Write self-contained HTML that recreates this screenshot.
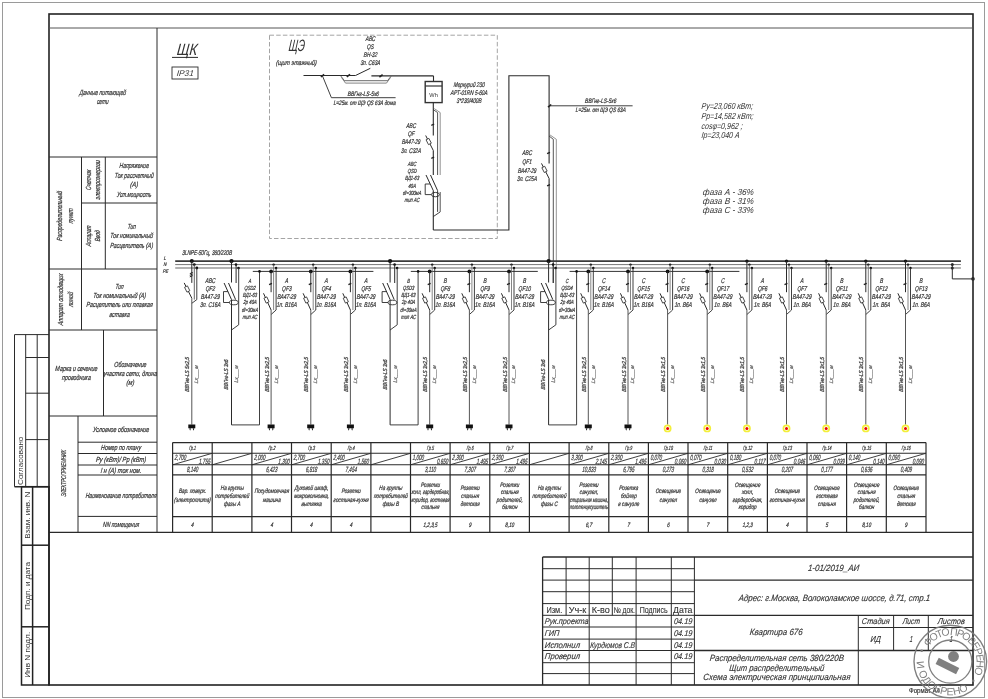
<!DOCTYPE html>
<html><head><meta charset="utf-8"><style>
html,body{margin:0;padding:0;background:#fff;}
svg{display:block;will-change:transform;}
text{font-family:"Liberation Sans",sans-serif;}
</style></head><body>
<svg width="988" height="699" viewBox="0 0 988 699">
<rect width="988" height="699" fill="#fff"/>
<rect x="2.5" y="2.5" width="982.0" height="695.0" fill="none" stroke="#9a9a9a" stroke-width="1.0" />
<rect x="49.0" y="14.0" width="924.0" height="671.0" fill="none" stroke="#222" stroke-width="1.6" />
<line x1="49.0" y1="28.0" x2="973.0" y2="28.0" stroke="#555" stroke-width="1.0" />
<line x1="157.0" y1="28.0" x2="157.0" y2="532.0" stroke="#2a2a2a" stroke-width="1.0" />
<line x1="49.0" y1="157.0" x2="157.0" y2="157.0" stroke="#2a2a2a" stroke-width="1.0" />
<line x1="81.5" y1="157.0" x2="81.5" y2="330.0" stroke="#2a2a2a" stroke-width="1.0" />
<line x1="105.3" y1="157.0" x2="105.3" y2="269.0" stroke="#2a2a2a" stroke-width="1.0" />
<line x1="81.5" y1="203.0" x2="157.0" y2="203.0" stroke="#2a2a2a" stroke-width="1.0" />
<line x1="49.0" y1="269.0" x2="157.0" y2="269.0" stroke="#2a2a2a" stroke-width="1.0" />
<line x1="49.0" y1="330.0" x2="157.0" y2="330.0" stroke="#2a2a2a" stroke-width="1.0" />
<line x1="103.5" y1="330.0" x2="103.5" y2="416.0" stroke="#2a2a2a" stroke-width="1.0" />
<line x1="49.0" y1="416.0" x2="157.0" y2="416.0" stroke="#2a2a2a" stroke-width="1.0" />
<line x1="78.0" y1="416.0" x2="78.0" y2="532.0" stroke="#2a2a2a" stroke-width="1.0" />
<line x1="78.0" y1="442.2" x2="157.0" y2="442.2" stroke="#2a2a2a" stroke-width="1.0" />
<line x1="78.0" y1="453.5" x2="157.0" y2="453.5" stroke="#2a2a2a" stroke-width="1.0" />
<line x1="78.0" y1="465.0" x2="157.0" y2="465.0" stroke="#2a2a2a" stroke-width="1.0" />
<line x1="78.0" y1="475.0" x2="157.0" y2="475.0" stroke="#2a2a2a" stroke-width="1.0" />
<line x1="78.0" y1="516.4" x2="157.0" y2="516.4" stroke="#2a2a2a" stroke-width="1.0" />
<line x1="49.0" y1="532.3" x2="973.0" y2="532.3" stroke="#2a2a2a" stroke-width="1.3" />
<text x="102.5" y="94.6" font-size="7.4" font-style="italic" fill="#333" text-anchor="middle" textLength="46.7" lengthAdjust="spacingAndGlyphs" stroke="#333" stroke-width="0.22" transform="translate(102.5 94.6) skewX(-6) translate(-102.5 -94.6)">Данные питающей</text>
<text x="102.5" y="103.8" font-size="7.4" font-style="italic" fill="#333" text-anchor="middle" textLength="11.7" lengthAdjust="spacingAndGlyphs" stroke="#333" stroke-width="0.22" transform="translate(102.5 103.8) skewX(-6) translate(-102.5 -103.8)">сети</text>
<text x="134.0" y="168.5" font-size="7.4" font-style="italic" fill="#333" text-anchor="middle" textLength="29.4" lengthAdjust="spacingAndGlyphs" stroke="#333" stroke-width="0.22" transform="translate(134.0 168.5) skewX(-6) translate(-134.0 -168.5)">Напряжение</text>
<text x="134.0" y="177.9" font-size="7.4" font-style="italic" fill="#333" text-anchor="middle" textLength="38.9" lengthAdjust="spacingAndGlyphs" stroke="#333" stroke-width="0.22" transform="translate(134.0 177.9) skewX(-6) translate(-134.0 -177.9)">Ток рассчетный</text>
<text x="134.0" y="187.4" font-size="7.4" font-style="italic" fill="#333" text-anchor="middle" textLength="7.9" lengthAdjust="spacingAndGlyphs" stroke="#333" stroke-width="0.22" transform="translate(134.0 187.4) skewX(-6) translate(-134.0 -187.4)">(А)</text>
<text x="134.0" y="196.8" font-size="7.4" font-style="italic" fill="#333" text-anchor="middle" textLength="34.6" lengthAdjust="spacingAndGlyphs" stroke="#333" stroke-width="0.22" transform="translate(134.0 196.8) skewX(-6) translate(-134.0 -196.8)">Уст.мощность</text>
<text x="131.5" y="228.9" font-size="7.4" font-style="italic" fill="#333" text-anchor="middle" textLength="8.2" lengthAdjust="spacingAndGlyphs" stroke="#333" stroke-width="0.22" transform="translate(131.5 228.9) skewX(-6) translate(-131.5 -228.9)">Тип</text>
<text x="131.5" y="238.4" font-size="7.4" font-style="italic" fill="#333" text-anchor="middle" textLength="42.8" lengthAdjust="spacingAndGlyphs" stroke="#333" stroke-width="0.22" transform="translate(131.5 238.4) skewX(-6) translate(-131.5 -238.4)">Ток номинальный</text>
<text x="131.5" y="247.9" font-size="7.4" font-style="italic" fill="#333" text-anchor="middle" textLength="42.9" lengthAdjust="spacingAndGlyphs" stroke="#333" stroke-width="0.22" transform="translate(131.5 247.9) skewX(-6) translate(-131.5 -247.9)">Расцепитель (А)</text>
<text x="119.4" y="288.6" font-size="7.4" font-style="italic" fill="#333" text-anchor="middle" textLength="8.2" lengthAdjust="spacingAndGlyphs" stroke="#333" stroke-width="0.22" transform="translate(119.4 288.6) skewX(-6) translate(-119.4 -288.6)">Тип</text>
<text x="119.4" y="298.0" font-size="7.4" font-style="italic" fill="#333" text-anchor="middle" textLength="53.0" lengthAdjust="spacingAndGlyphs" stroke="#333" stroke-width="0.22" transform="translate(119.4 298.0) skewX(-6) translate(-119.4 -298.0)">Ток номинальный (А)</text>
<text x="119.4" y="307.4" font-size="7.4" font-style="italic" fill="#333" text-anchor="middle" textLength="66.4" lengthAdjust="spacingAndGlyphs" stroke="#333" stroke-width="0.22" transform="translate(119.4 307.4) skewX(-6) translate(-119.4 -307.4)">Расцепитель или плавкая</text>
<text x="119.4" y="316.8" font-size="7.4" font-style="italic" fill="#333" text-anchor="middle" textLength="20.4" lengthAdjust="spacingAndGlyphs" stroke="#333" stroke-width="0.22" transform="translate(119.4 316.8) skewX(-6) translate(-119.4 -316.8)">вставка</text>
<text x="59.7" y="218.7" font-size="7.4" font-style="italic" fill="#333" text-anchor="middle" textLength="49.8" lengthAdjust="spacingAndGlyphs" stroke="#333" stroke-width="0.22" transform="rotate(-90 59.7 216.0) translate(59.7 218.7) skewX(-6) translate(-59.7 -218.7)">Распределительный</text>
<text x="70.7" y="218.7" font-size="7.4" font-style="italic" fill="#333" text-anchor="middle" textLength="15.0" lengthAdjust="spacingAndGlyphs" stroke="#333" stroke-width="0.22" transform="rotate(-90 70.7 216.0) translate(70.7 218.7) skewX(-6) translate(-70.7 -218.7)">пункт</text>
<text x="88.0" y="182.7" font-size="7.4" font-style="italic" fill="#333" text-anchor="middle" textLength="20.4" lengthAdjust="spacingAndGlyphs" stroke="#333" stroke-width="0.22" transform="rotate(-90 88.0 180.0) translate(88.0 182.7) skewX(-6) translate(-88.0 -182.7)">Счетчик</text>
<text x="97.5" y="182.7" font-size="7.4" font-style="italic" fill="#333" text-anchor="middle" textLength="39.3" lengthAdjust="spacingAndGlyphs" stroke="#333" stroke-width="0.22" transform="rotate(-90 97.5 180.0) translate(97.5 182.7) skewX(-6) translate(-97.5 -182.7)">электроэнергии</text>
<text x="88.0" y="238.7" font-size="7.4" font-style="italic" fill="#333" text-anchor="middle" textLength="20.8" lengthAdjust="spacingAndGlyphs" stroke="#333" stroke-width="0.22" transform="rotate(-90 88.0 236.0) translate(88.0 238.7) skewX(-6) translate(-88.0 -238.7)">Аппарат</text>
<text x="97.5" y="238.7" font-size="7.4" font-style="italic" fill="#333" text-anchor="middle" textLength="11.0" lengthAdjust="spacingAndGlyphs" stroke="#333" stroke-width="0.22" transform="rotate(-90 97.5 236.0) translate(97.5 238.7) skewX(-6) translate(-97.5 -238.7)">Ввод</text>
<text x="60.2" y="302.2" font-size="7.4" font-style="italic" fill="#333" text-anchor="middle" textLength="51.9" lengthAdjust="spacingAndGlyphs" stroke="#333" stroke-width="0.22" transform="rotate(-90 60.2 299.5) translate(60.2 302.2) skewX(-6) translate(-60.2 -302.2)">Аппарат отходящих</text>
<text x="70.8" y="302.2" font-size="7.4" font-style="italic" fill="#333" text-anchor="middle" textLength="15.0" lengthAdjust="spacingAndGlyphs" stroke="#333" stroke-width="0.22" transform="rotate(-90 70.8 299.5) translate(70.8 302.2) skewX(-6) translate(-70.8 -302.2)">линий</text>
<text x="76.2" y="371.0" font-size="7.4" font-style="italic" fill="#333" text-anchor="middle" textLength="42.2" lengthAdjust="spacingAndGlyphs" stroke="#333" stroke-width="0.22" transform="translate(76.2 371.0) skewX(-6) translate(-76.2 -371.0)">Марка и сечение</text>
<text x="76.2" y="380.4" font-size="7.4" font-style="italic" fill="#333" text-anchor="middle" textLength="28.8" lengthAdjust="spacingAndGlyphs" stroke="#333" stroke-width="0.22" transform="translate(76.2 380.4) skewX(-6) translate(-76.2 -380.4)">проводника</text>
<text x="130.2" y="366.9" font-size="7.4" font-style="italic" fill="#333" text-anchor="middle" textLength="32.2" lengthAdjust="spacingAndGlyphs" stroke="#333" stroke-width="0.22" transform="translate(130.2 366.9) skewX(-6) translate(-130.2 -366.9)">Обозначение</text>
<text x="130.2" y="376.2" font-size="7.4" font-style="italic" fill="#333" text-anchor="middle" textLength="53.6" lengthAdjust="spacingAndGlyphs" stroke="#333" stroke-width="0.22" transform="translate(130.2 376.2) skewX(-6) translate(-130.2 -376.2)">участка сети, длина</text>
<text x="130.2" y="385.5" font-size="7.4" font-style="italic" fill="#333" text-anchor="middle" textLength="7.8" lengthAdjust="spacingAndGlyphs" stroke="#333" stroke-width="0.22" transform="translate(130.2 385.5) skewX(-6) translate(-130.2 -385.5)">(м)</text>
<text x="63.8" y="476.0" font-size="7.0" font-style="italic" fill="#333" text-anchor="middle" textLength="46.5" lengthAdjust="spacingAndGlyphs" stroke="#333" stroke-width="0.22" transform="rotate(-90 63.8 473.5) translate(63.8 476.0) skewX(-6) translate(-63.8 -476.0)">ЭЛЕКТРОПРИЕМНИК</text>
<text x="120.9" y="432.2" font-size="7.4" font-style="italic" fill="#333" text-anchor="middle" textLength="56.2" lengthAdjust="spacingAndGlyphs" stroke="#333" stroke-width="0.22" transform="translate(120.9 432.2) skewX(-6) translate(-120.9 -432.2)">Условное обозначение</text>
<text x="120.9" y="450.5" font-size="7.4" font-style="italic" fill="#333" text-anchor="middle" textLength="40.3" lengthAdjust="spacingAndGlyphs" stroke="#333" stroke-width="0.22" transform="translate(120.9 450.5) skewX(-6) translate(-120.9 -450.5)">Номер по плану</text>
<text x="120.9" y="462.0" font-size="7.4" font-style="italic" fill="#333" text-anchor="middle" textLength="50.2" lengthAdjust="spacingAndGlyphs" stroke="#333" stroke-width="0.22" transform="translate(120.9 462.0) skewX(-6) translate(-120.9 -462.0)">Ру (кВт)/ Рр (кВт)</text>
<text x="120.9" y="472.9" font-size="7.4" font-style="italic" fill="#333" text-anchor="middle" textLength="40.9" lengthAdjust="spacingAndGlyphs" stroke="#333" stroke-width="0.22" transform="translate(120.9 472.9) skewX(-6) translate(-120.9 -472.9)">I н (А) ток ном.</text>
<text x="120.9" y="498.2" font-size="7.4" font-style="italic" fill="#333" text-anchor="middle" textLength="71.0" lengthAdjust="spacingAndGlyphs" stroke="#333" stroke-width="0.22" transform="translate(120.9 498.2) skewX(-6) translate(-120.9 -498.2)">Наименование потребителя</text>
<text x="120.9" y="527.3" font-size="7.4" font-style="italic" fill="#333" text-anchor="middle" textLength="36.1" lengthAdjust="spacingAndGlyphs" stroke="#333" stroke-width="0.22" transform="translate(120.9 527.3) skewX(-6) translate(-120.9 -527.3)">NN помещения</text>
<line x1="14.5" y1="334.6" x2="49.0" y2="334.6" stroke="#2a2a2a" stroke-width="1.0" />
<line x1="14.5" y1="334.6" x2="14.5" y2="486.7" stroke="#2a2a2a" stroke-width="1.0" />
<line x1="25.7" y1="334.6" x2="25.7" y2="486.7" stroke="#2a2a2a" stroke-width="1.0" />
<line x1="37.2" y1="334.6" x2="37.2" y2="486.7" stroke="#2a2a2a" stroke-width="1.0" />
<line x1="25.7" y1="357.5" x2="49.0" y2="357.5" stroke="#2a2a2a" stroke-width="1.0" />
<line x1="25.7" y1="393.2" x2="49.0" y2="393.2" stroke="#2a2a2a" stroke-width="1.0" />
<line x1="25.7" y1="439.6" x2="49.0" y2="439.6" stroke="#2a2a2a" stroke-width="1.0" />
<line x1="14.5" y1="486.7" x2="49.0" y2="486.7" stroke="#2a2a2a" stroke-width="1.4" />
<rect x="21.5" y="486.7" width="27.5" height="198.3" fill="none" stroke="#222" stroke-width="1.5" />
<line x1="32.6" y1="486.7" x2="32.6" y2="685.0" stroke="#222" stroke-width="1.5" />
<line x1="21.5" y1="545.2" x2="49.0" y2="545.2" stroke="#222" stroke-width="1.5" />
<line x1="21.5" y1="626.8" x2="49.0" y2="626.8" stroke="#222" stroke-width="1.5" />
<text x="20.6" y="463.5" font-size="7.4" font-style="normal" fill="#333" text-anchor="middle" textLength="48.2" lengthAdjust="spacingAndGlyphs" transform="rotate(-90 20.6 460.8) ">Согласовано</text>
<text x="27.0" y="518.0" font-size="7.4" font-style="normal" fill="#333" text-anchor="middle" textLength="47.0" lengthAdjust="spacingAndGlyphs" transform="rotate(-90 27.0 515.3) ">Взам. инв. N</text>
<text x="27.0" y="588.7" font-size="7.4" font-style="normal" fill="#333" text-anchor="middle" textLength="48.0" lengthAdjust="spacingAndGlyphs" transform="rotate(-90 27.0 586.0) ">Подп. и дата</text>
<text x="27.0" y="657.5" font-size="7.4" font-style="normal" fill="#333" text-anchor="middle" textLength="46.0" lengthAdjust="spacingAndGlyphs" transform="rotate(-90 27.0 654.8) ">Инв N подл.</text>
<line x1="542.6" y1="557.0" x2="973.0" y2="557.0" stroke="#2a2a2a" stroke-width="1.3" />
<line x1="542.6" y1="557.0" x2="542.6" y2="685.0" stroke="#2a2a2a" stroke-width="1.3" />
<line x1="542.6" y1="568.7" x2="694.4" y2="568.7" stroke="#2a2a2a" stroke-width="1.0" />
<line x1="542.6" y1="580.1" x2="694.4" y2="580.1" stroke="#2a2a2a" stroke-width="1.0" />
<line x1="542.6" y1="591.7" x2="694.4" y2="591.7" stroke="#2a2a2a" stroke-width="1.0" />
<line x1="542.6" y1="603.6" x2="694.4" y2="603.6" stroke="#2a2a2a" stroke-width="1.0" />
<line x1="542.6" y1="615.3" x2="694.4" y2="615.3" stroke="#2a2a2a" stroke-width="1.0" />
<line x1="542.6" y1="627.0" x2="694.4" y2="627.0" stroke="#2a2a2a" stroke-width="1.0" />
<line x1="542.6" y1="639.1" x2="694.4" y2="639.1" stroke="#2a2a2a" stroke-width="1.0" />
<line x1="542.6" y1="650.5" x2="694.4" y2="650.5" stroke="#2a2a2a" stroke-width="1.0" />
<line x1="542.6" y1="662.7" x2="694.4" y2="662.7" stroke="#2a2a2a" stroke-width="1.0" />
<line x1="542.6" y1="673.6" x2="694.4" y2="673.6" stroke="#2a2a2a" stroke-width="1.0" />
<line x1="566.1" y1="557.0" x2="566.1" y2="615.3" stroke="#2a2a2a" stroke-width="1.0" />
<line x1="612.3" y1="557.0" x2="612.3" y2="615.3" stroke="#2a2a2a" stroke-width="1.0" />
<line x1="589.2" y1="557.0" x2="589.2" y2="685.0" stroke="#2a2a2a" stroke-width="1.0" />
<line x1="636.1" y1="557.0" x2="636.1" y2="685.0" stroke="#2a2a2a" stroke-width="1.0" />
<line x1="671.3" y1="557.0" x2="671.3" y2="685.0" stroke="#2a2a2a" stroke-width="1.0" />
<line x1="694.4" y1="557.0" x2="694.4" y2="685.0" stroke="#2a2a2a" stroke-width="1.0" />
<line x1="694.4" y1="580.1" x2="973.0" y2="580.1" stroke="#2a2a2a" stroke-width="1.3" />
<line x1="694.4" y1="615.3" x2="973.0" y2="615.3" stroke="#2a2a2a" stroke-width="1.3" />
<line x1="694.4" y1="650.5" x2="973.0" y2="650.5" stroke="#2a2a2a" stroke-width="1.3" />
<line x1="858.3" y1="615.3" x2="858.3" y2="685.0" stroke="#2a2a2a" stroke-width="1.0" />
<line x1="893.6" y1="615.3" x2="893.6" y2="650.5" stroke="#2a2a2a" stroke-width="1.0" />
<line x1="928.3" y1="615.3" x2="928.3" y2="650.5" stroke="#2a2a2a" stroke-width="1.0" />
<line x1="858.3" y1="627.5" x2="973.0" y2="627.5" stroke="#2a2a2a" stroke-width="1.0" />
<text x="554.3" y="612.6" font-size="8.4" font-style="normal" fill="#333" text-anchor="middle" textLength="15.8" lengthAdjust="spacingAndGlyphs" stroke="#333" stroke-width="0.12">Изм.</text>
<text x="577.6" y="612.6" font-size="8.4" font-style="normal" fill="#333" text-anchor="middle" textLength="17.5" lengthAdjust="spacingAndGlyphs" stroke="#333" stroke-width="0.12">Уч-к</text>
<text x="600.7" y="612.6" font-size="8.4" font-style="normal" fill="#333" text-anchor="middle" textLength="18.0" lengthAdjust="spacingAndGlyphs" stroke="#333" stroke-width="0.12">К-во</text>
<text x="624.2" y="612.6" font-size="8.4" font-style="normal" fill="#333" text-anchor="middle" textLength="21.6" lengthAdjust="spacingAndGlyphs" stroke="#333" stroke-width="0.12">№ док.</text>
<text x="653.7" y="612.6" font-size="8.4" font-style="normal" fill="#333" text-anchor="middle" textLength="28.0" lengthAdjust="spacingAndGlyphs" stroke="#333" stroke-width="0.12">Подпись</text>
<text x="682.8" y="612.6" font-size="8.4" font-style="normal" fill="#333" text-anchor="middle" textLength="19.4" lengthAdjust="spacingAndGlyphs" stroke="#333" stroke-width="0.12">Дата</text>
<text x="544.6" y="624.2" font-size="8.4" font-style="italic" fill="#333" text-anchor="start" textLength="43.7" lengthAdjust="spacingAndGlyphs" stroke="#333" stroke-width="0.14" transform="translate(544.6 624.2) skewX(-6) translate(-544.6 -624.2)">Рук.проекта</text>
<text x="682.9" y="624.2" font-size="8.4" font-style="italic" fill="#333" text-anchor="middle" textLength="18.5" lengthAdjust="spacingAndGlyphs" stroke="#333" stroke-width="0.14" transform="translate(682.9 624.2) skewX(-6) translate(-682.9 -624.2)">04.19</text>
<text x="544.6" y="636.0" font-size="8.4" font-style="italic" fill="#333" text-anchor="start" textLength="14.6" lengthAdjust="spacingAndGlyphs" stroke="#333" stroke-width="0.14" transform="translate(544.6 636.0) skewX(-6) translate(-544.6 -636.0)">ГИП</text>
<text x="682.9" y="636.0" font-size="8.4" font-style="italic" fill="#333" text-anchor="middle" textLength="18.5" lengthAdjust="spacingAndGlyphs" stroke="#333" stroke-width="0.14" transform="translate(682.9 636.0) skewX(-6) translate(-682.9 -636.0)">04.19</text>
<text x="544.6" y="647.8" font-size="8.4" font-style="italic" fill="#333" text-anchor="start" textLength="35.2" lengthAdjust="spacingAndGlyphs" stroke="#333" stroke-width="0.14" transform="translate(544.6 647.8) skewX(-6) translate(-544.6 -647.8)">Исполнил</text>
<text x="682.9" y="647.8" font-size="8.4" font-style="italic" fill="#333" text-anchor="middle" textLength="18.5" lengthAdjust="spacingAndGlyphs" stroke="#333" stroke-width="0.14" transform="translate(682.9 647.8) skewX(-6) translate(-682.9 -647.8)">04.19</text>
<text x="544.6" y="659.3" font-size="8.4" font-style="italic" fill="#333" text-anchor="start" textLength="35.2" lengthAdjust="spacingAndGlyphs" stroke="#333" stroke-width="0.14" transform="translate(544.6 659.3) skewX(-6) translate(-544.6 -659.3)">Проверил</text>
<text x="682.9" y="659.3" font-size="8.4" font-style="italic" fill="#333" text-anchor="middle" textLength="18.5" lengthAdjust="spacingAndGlyphs" stroke="#333" stroke-width="0.14" transform="translate(682.9 659.3) skewX(-6) translate(-682.9 -659.3)">04.19</text>
<text x="612.4" y="647.6" font-size="8.4" font-style="italic" fill="#333" text-anchor="middle" textLength="45.0" lengthAdjust="spacingAndGlyphs" stroke="#333" stroke-width="0.14" transform="translate(612.4 647.6) skewX(-6) translate(-612.4 -647.6)">Курдюмов С.В</text>
<text x="833.3" y="571.5" font-size="9.0" font-style="italic" fill="#333" text-anchor="middle" textLength="51.3" lengthAdjust="spacingAndGlyphs" stroke="#333" stroke-width="0.14" transform="translate(833.3 571.5) skewX(-6) translate(-833.3 -571.5)">1-01/2019_АИ</text>
<text x="834.2" y="600.6" font-size="9.0" font-style="italic" fill="#333" text-anchor="middle" textLength="191.6" lengthAdjust="spacingAndGlyphs" stroke="#333" stroke-width="0.14" transform="translate(834.2 600.6) skewX(-6) translate(-834.2 -600.6)">Адрес: г.Москва, Волоколамское шоссе, д.71, стр.1</text>
<text x="776.0" y="635.5" font-size="9.0" font-style="italic" fill="#333" text-anchor="middle" textLength="52.8" lengthAdjust="spacingAndGlyphs" stroke="#333" stroke-width="0.14" transform="translate(776.0 635.5) skewX(-6) translate(-776.0 -635.5)">Квартира 676</text>
<text x="875.5" y="624.5" font-size="8.6" font-style="italic" fill="#333" text-anchor="middle" textLength="27.8" lengthAdjust="spacingAndGlyphs" stroke="#333" stroke-width="0.14" transform="translate(875.5 624.5) skewX(-6) translate(-875.5 -624.5)">Стадия</text>
<text x="911.1" y="624.5" font-size="8.6" font-style="italic" fill="#333" text-anchor="middle" textLength="17.2" lengthAdjust="spacingAndGlyphs" stroke="#333" stroke-width="0.14" transform="translate(911.1 624.5) skewX(-6) translate(-911.1 -624.5)">Лист</text>
<text x="951.0" y="624.5" font-size="8.6" font-style="italic" fill="#333" text-anchor="middle" textLength="27.1" lengthAdjust="spacingAndGlyphs" stroke="#333" stroke-width="0.14" transform="translate(951.0 624.5) skewX(-6) translate(-951.0 -624.5)">Листов</text>
<text x="875.5" y="642.1" font-size="8.6" font-style="italic" fill="#333" text-anchor="middle" textLength="10.3" lengthAdjust="spacingAndGlyphs" stroke="#333" stroke-width="0.14" transform="translate(875.5 642.1) skewX(-6) translate(-875.5 -642.1)">ИД</text>
<text x="911.1" y="642.1" font-size="8.6" font-style="italic" fill="#333" text-anchor="middle" textLength="3.0" lengthAdjust="spacingAndGlyphs" stroke="#333" stroke-width="0.14" transform="translate(911.1 642.1) skewX(-6) translate(-911.1 -642.1)">1</text>
<text x="951.0" y="642.1" font-size="8.6" font-style="italic" fill="#333" text-anchor="middle" textLength="3.0" lengthAdjust="spacingAndGlyphs" stroke="#333" stroke-width="0.14" transform="translate(951.0 642.1) skewX(-6) translate(-951.0 -642.1)">1</text>
<text x="776.6" y="660.8" font-size="9.0" font-style="italic" fill="#333" text-anchor="middle" textLength="134.2" lengthAdjust="spacingAndGlyphs" stroke="#333" stroke-width="0.14" transform="translate(776.6 660.8) skewX(-6) translate(-776.6 -660.8)">Распределительная сеть 380/220В</text>
<text x="776.6" y="670.6" font-size="9.0" font-style="italic" fill="#333" text-anchor="middle" textLength="95.0" lengthAdjust="spacingAndGlyphs" stroke="#333" stroke-width="0.14" transform="translate(776.6 670.6) skewX(-6) translate(-776.6 -670.6)">Щит распределительный</text>
<text x="776.6" y="680.4" font-size="9.0" font-style="italic" fill="#333" text-anchor="middle" textLength="147.2" lengthAdjust="spacingAndGlyphs" stroke="#333" stroke-width="0.14" transform="translate(776.6 680.4) skewX(-6) translate(-776.6 -680.4)">Схема электрическая принципиальная</text>
<text x="909.0" y="693.3" font-size="7.4" font-style="normal" fill="#333" text-anchor="start" textLength="31.0" lengthAdjust="spacingAndGlyphs" stroke="#333" stroke-width="0.2">Формат А4</text>
<text x="186.8" y="55.2" font-size="16.5" font-style="italic" fill="#333" text-anchor="middle" textLength="20.4" lengthAdjust="spacingAndGlyphs" transform="translate(186.8 55.2) skewX(-6) translate(-186.8 -55.2)">ЩК</text>
<line x1="172.0" y1="57.4" x2="198.0" y2="57.4" stroke="#2a2a2a" stroke-width="1.0" />
<rect x="172.0" y="67.0" width="26.0" height="12.0" fill="none" stroke="#2a2a2a" stroke-width="0.9" />
<text x="185.0" y="76.0" font-size="8.4" font-style="italic" fill="#333" text-anchor="middle" textLength="17.0" lengthAdjust="spacingAndGlyphs" transform="translate(185.0 76.0) skewX(-6) translate(-185.0 -76.0)">IP31</text>
<rect x="269.5" y="35.2" width="227.8" height="203.3" fill="none" stroke="#9a9a9a" stroke-width="0.9" stroke-dasharray="4.5 2.2"/>
<text x="296.4" y="51.2" font-size="16.5" font-style="italic" fill="#333" text-anchor="middle" textLength="16.2" lengthAdjust="spacingAndGlyphs" transform="translate(296.4 51.2) skewX(-6) translate(-296.4 -51.2)">ЩЭ</text>
<text x="296.3" y="65.5" font-size="6.8" font-style="italic" fill="#333" text-anchor="middle" textLength="40.7" lengthAdjust="spacingAndGlyphs" stroke="#333" stroke-width="0.22" transform="translate(296.3 65.5) skewX(-6) translate(-296.3 -65.5)">(щит этажный)</text>
<line x1="303.5" y1="75.5" x2="355.5" y2="75.5" stroke="#2a2a2a" stroke-width="1.1" />
<line x1="355.5" y1="75.5" x2="370.3" y2="68.3" stroke="#2a2a2a" stroke-width="1.0" />
<line x1="371.4" y1="75.9" x2="433.5" y2="75.9" stroke="#2a2a2a" stroke-width="1.1" />
<line x1="433.5" y1="75.9" x2="433.5" y2="81.5" stroke="#2a2a2a" stroke-width="1.1" />
<line x1="320.9" y1="77.0" x2="324.1" y2="74.4" stroke="#222" stroke-width="1.6" />
<line x1="346.8" y1="76.9" x2="350.0" y2="74.3" stroke="#222" stroke-width="1.6" />
<line x1="379.4" y1="77.2" x2="382.6" y2="74.6" stroke="#222" stroke-width="1.6" />
<polyline points="340.5,75.7 344.5,80.7 387.5,80.7 391.1,76.2" fill="none" stroke="#444" stroke-width="0.8" />
<polyline points="341.5,77.5 345.5,83.1 386.5,83.1 390.5,77.5" fill="none" stroke="#666" stroke-width="0.8" />
<line x1="322.5" y1="76.0" x2="331.4" y2="97.7" stroke="#2a2a2a" stroke-width="0.9" />
<line x1="331.4" y1="97.7" x2="395.6" y2="97.7" stroke="#2a2a2a" stroke-width="0.9" />
<text x="363.2" y="95.9" font-size="6.4" font-style="italic" fill="#333" text-anchor="middle" textLength="31.3" lengthAdjust="spacingAndGlyphs" stroke="#333" stroke-width="0.22" transform="translate(363.2 95.9) skewX(-6) translate(-363.2 -95.9)">ВВГнг-LS-5х6</text>
<text x="364.5" y="104.9" font-size="6.4" font-style="italic" fill="#333" text-anchor="middle" textLength="62.2" lengthAdjust="spacingAndGlyphs" stroke="#333" stroke-width="0.22" transform="translate(364.5 104.9) skewX(-6) translate(-364.5 -104.9)">L=25м. от ЩЭ QS 63А дома</text>
<text x="370.3" y="40.7" font-size="6.8" font-style="italic" fill="#333" text-anchor="middle" textLength="9.7" lengthAdjust="spacingAndGlyphs" stroke="#333" stroke-width="0.22" transform="translate(370.3 40.7) skewX(-6) translate(-370.3 -40.7)">АВС</text>
<text x="370.3" y="48.8" font-size="6.8" font-style="italic" fill="#333" text-anchor="middle" textLength="6.9" lengthAdjust="spacingAndGlyphs" stroke="#333" stroke-width="0.22" transform="translate(370.3 48.8) skewX(-6) translate(-370.3 -48.8)">QS</text>
<text x="370.3" y="56.9" font-size="6.8" font-style="italic" fill="#333" text-anchor="middle" textLength="13.5" lengthAdjust="spacingAndGlyphs" stroke="#333" stroke-width="0.22" transform="translate(370.3 56.9) skewX(-6) translate(-370.3 -56.9)">ВН-32</text>
<text x="370.3" y="65.0" font-size="6.8" font-style="italic" fill="#333" text-anchor="middle" textLength="19.8" lengthAdjust="spacingAndGlyphs" stroke="#333" stroke-width="0.22" transform="translate(370.3 65.0) skewX(-6) translate(-370.3 -65.0)">3п. С63А</text>
<rect x="425.2" y="81.5" width="16.9" height="21.1" fill="none" stroke="#333" stroke-width="1.4" />
<line x1="425.2" y1="86.0" x2="442.1" y2="86.0" stroke="#333" stroke-width="1.2" />
<text x="433.6" y="97.2" font-size="6.0" font-style="normal" fill="#333" text-anchor="middle" textLength="8.5" lengthAdjust="spacingAndGlyphs">Wh</text>
<text x="469.0" y="86.9" font-size="6.8" font-style="italic" fill="#333" text-anchor="middle" textLength="31.1" lengthAdjust="spacingAndGlyphs" stroke="#333" stroke-width="0.22" transform="translate(469.0 86.9) skewX(-6) translate(-469.0 -86.9)">Меркурий 230</text>
<text x="469.0" y="95.0" font-size="6.8" font-style="italic" fill="#333" text-anchor="middle" textLength="36.8" lengthAdjust="spacingAndGlyphs" stroke="#333" stroke-width="0.22" transform="translate(469.0 95.0) skewX(-6) translate(-469.0 -95.0)">АРТ-01RN 5-60А</text>
<text x="469.0" y="103.1" font-size="6.8" font-style="italic" fill="#333" text-anchor="middle" textLength="24.9" lengthAdjust="spacingAndGlyphs" stroke="#333" stroke-width="0.22" transform="translate(469.0 103.1) skewX(-6) translate(-469.0 -103.1)">3*230/400В</text>
<line x1="433.3" y1="102.6" x2="433.3" y2="135.5" stroke="#2a2a2a" stroke-width="1.1" />
<line x1="431.3" y1="125.3" x2="434.2" y2="124.0" stroke="#222" stroke-width="1.3" />
<line x1="425.7" y1="135.5" x2="433.3" y2="150.5" stroke="#2a2a2a" stroke-width="1.0" />
<rect x="426.0" y="139.9" width="5.4" height="3.2" fill="#fff" stroke="#2a2a2a" stroke-width="0.75" transform="rotate(63.1 428.7 141.5)"/>
<line x1="433.3" y1="150.5" x2="433.3" y2="175.0" stroke="#2a2a2a" stroke-width="1.1" />
<line x1="431.3" y1="158.3" x2="434.2" y2="157.0" stroke="#222" stroke-width="1.3" />
<line x1="433.3" y1="109.6" x2="437.6" y2="112.6" stroke="#2a2a2a" stroke-width="0.8" />
<line x1="437.6" y1="112.6" x2="437.6" y2="175.0" stroke="#2a2a2a" stroke-width="0.8" />
<line x1="434.3" y1="108.6" x2="440.2" y2="112.6" stroke="#777" stroke-width="0.8" />
<line x1="440.2" y1="112.6" x2="440.2" y2="175.0" stroke="#777" stroke-width="0.8" />
<text x="411.0" y="128.1" font-size="6.8" font-style="italic" fill="#333" text-anchor="middle" textLength="9.7" lengthAdjust="spacingAndGlyphs" stroke="#333" stroke-width="0.22" transform="translate(411.0 128.1) skewX(-6) translate(-411.0 -128.1)">АВС</text>
<text x="411.0" y="136.3" font-size="6.8" font-style="italic" fill="#333" text-anchor="middle" textLength="6.6" lengthAdjust="spacingAndGlyphs" stroke="#333" stroke-width="0.22" transform="translate(411.0 136.3) skewX(-6) translate(-411.0 -136.3)">QF</text>
<text x="411.0" y="144.5" font-size="6.8" font-style="italic" fill="#333" text-anchor="middle" textLength="18.4" lengthAdjust="spacingAndGlyphs" stroke="#333" stroke-width="0.22" transform="translate(411.0 144.5) skewX(-6) translate(-411.0 -144.5)">ВА47-29</text>
<text x="411.0" y="152.7" font-size="6.8" font-style="italic" fill="#333" text-anchor="middle" textLength="19.8" lengthAdjust="spacingAndGlyphs" stroke="#333" stroke-width="0.22" transform="translate(411.0 152.7) skewX(-6) translate(-411.0 -152.7)">3п. С32А</text>
<line x1="426.0" y1="175.0" x2="433.3" y2="190.6" stroke="#2a2a2a" stroke-width="1.0" />
<line x1="430.5" y1="175.0" x2="437.6" y2="190.6" stroke="#2a2a2a" stroke-width="1.0" />
<polyline points="430.0,184.0 425.2,184.0 425.2,194.6 431.3,194.6" fill="none" stroke="#2a2a2a" stroke-width="0.9" />
<ellipse cx="435.4" cy="194.6" rx="4" ry="2.2" fill="none" stroke="#2a2a2a" stroke-width="0.9"/>
<line x1="433.3" y1="190.6" x2="433.3" y2="230.0" stroke="#2a2a2a" stroke-width="1.1" />
<line x1="437.6" y1="190.6" x2="437.6" y2="211.9" stroke="#2a2a2a" stroke-width="0.9" />
<line x1="440.2" y1="192.0" x2="440.2" y2="211.9" stroke="#2a2a2a" stroke-width="0.8" />
<line x1="440.2" y1="211.9" x2="433.3" y2="216.6" stroke="#2a2a2a" stroke-width="0.9" />
<text x="412.0" y="165.9" font-size="6.0" font-style="italic" fill="#333" text-anchor="middle" textLength="8.5" lengthAdjust="spacingAndGlyphs" stroke="#333" stroke-width="0.22" transform="translate(412.0 165.9) skewX(-6) translate(-412.0 -165.9)">АВС</text>
<text x="412.0" y="173.2" font-size="6.0" font-style="italic" fill="#333" text-anchor="middle" textLength="9.1" lengthAdjust="spacingAndGlyphs" stroke="#333" stroke-width="0.22" transform="translate(412.0 173.2) skewX(-6) translate(-412.0 -173.2)">QSD</text>
<text x="412.0" y="180.5" font-size="6.0" font-style="italic" fill="#333" text-anchor="middle" textLength="14.1" lengthAdjust="spacingAndGlyphs" stroke="#333" stroke-width="0.22" transform="translate(412.0 180.5) skewX(-6) translate(-412.0 -180.5)">ВД1-63</text>
<text x="412.0" y="187.8" font-size="6.0" font-style="italic" fill="#333" text-anchor="middle" textLength="7.5" lengthAdjust="spacingAndGlyphs" stroke="#333" stroke-width="0.22" transform="translate(412.0 187.8) skewX(-6) translate(-412.0 -187.8)">40А</text>
<text x="412.0" y="195.1" font-size="6.0" font-style="italic" fill="#333" text-anchor="middle" textLength="18.6" lengthAdjust="spacingAndGlyphs" stroke="#333" stroke-width="0.22" transform="translate(412.0 195.1) skewX(-6) translate(-412.0 -195.1)">dI=300мА</text>
<text x="412.0" y="202.4" font-size="6.0" font-style="italic" fill="#333" text-anchor="middle" textLength="14.9" lengthAdjust="spacingAndGlyphs" stroke="#333" stroke-width="0.22" transform="translate(412.0 202.4) skewX(-6) translate(-412.0 -202.4)">тип АС</text>
<polyline points="433.3,230.0 508.9,230.0 508.9,75.8 549.1,75.8 549.1,163.4" fill="none" stroke="#2a2a2a" stroke-width="1.1" />
<line x1="547.1" y1="153.6" x2="550.0" y2="152.3" stroke="#222" stroke-width="1.3" />
<line x1="541.5" y1="163.4" x2="549.1" y2="178.5" stroke="#2a2a2a" stroke-width="1.0" />
<rect x="541.8" y="167.8" width="5.4" height="3.2" fill="#fff" stroke="#2a2a2a" stroke-width="0.75" transform="rotate(63.3 544.5 169.4)"/>
<line x1="549.1" y1="178.5" x2="549.1" y2="261.0" stroke="#2a2a2a" stroke-width="1.1" />
<line x1="547.1" y1="185.9" x2="550.0" y2="184.6" stroke="#222" stroke-width="1.3" />
<line x1="549.1" y1="136.0" x2="553.3" y2="139.3" stroke="#2a2a2a" stroke-width="0.8" />
<line x1="553.3" y1="139.3" x2="553.3" y2="283.0" stroke="#2a2a2a" stroke-width="0.8" />
<line x1="550.1" y1="135.0" x2="556.3" y2="139.3" stroke="#777" stroke-width="0.8" />
<line x1="556.3" y1="139.3" x2="556.3" y2="268.0" stroke="#777" stroke-width="0.8" />
<line x1="549.1" y1="105.8" x2="632.6" y2="105.8" stroke="#2a2a2a" stroke-width="0.9" />
<line x1="548.0" y1="107.1" x2="551.2" y2="104.5" stroke="#222" stroke-width="1.6" />
<text x="600.6" y="103.3" font-size="6.4" font-style="italic" fill="#333" text-anchor="middle" textLength="31.5" lengthAdjust="spacingAndGlyphs" stroke="#333" stroke-width="0.22" transform="translate(600.6 103.3) skewX(-6) translate(-600.6 -103.3)">ВВГнг-LS-5х6</text>
<text x="600.6" y="112.1" font-size="6.4" font-style="italic" fill="#333" text-anchor="middle" textLength="50.0" lengthAdjust="spacingAndGlyphs" stroke="#333" stroke-width="0.22" transform="translate(600.6 112.1) skewX(-6) translate(-600.6 -112.1)">L=25м. от ЩЭ QS 63А</text>
<text x="527.0" y="155.4" font-size="6.8" font-style="italic" fill="#333" text-anchor="middle" textLength="9.7" lengthAdjust="spacingAndGlyphs" stroke="#333" stroke-width="0.22" transform="translate(527.0 155.4) skewX(-6) translate(-527.0 -155.4)">АВС</text>
<text x="527.0" y="164.1" font-size="6.8" font-style="italic" fill="#333" text-anchor="middle" textLength="9.3" lengthAdjust="spacingAndGlyphs" stroke="#333" stroke-width="0.22" transform="translate(527.0 164.1) skewX(-6) translate(-527.0 -164.1)">QF1</text>
<text x="527.0" y="172.8" font-size="6.8" font-style="italic" fill="#333" text-anchor="middle" textLength="18.4" lengthAdjust="spacingAndGlyphs" stroke="#333" stroke-width="0.22" transform="translate(527.0 172.8) skewX(-6) translate(-527.0 -172.8)">ВА47-29</text>
<text x="527.0" y="181.5" font-size="6.8" font-style="italic" fill="#333" text-anchor="middle" textLength="19.8" lengthAdjust="spacingAndGlyphs" stroke="#333" stroke-width="0.22" transform="translate(527.0 181.5) skewX(-6) translate(-527.0 -181.5)">3п. С25А</text>
<text x="701.2" y="109.4" font-size="8.8" font-style="italic" fill="#333" text-anchor="start" textLength="51.7" lengthAdjust="spacingAndGlyphs" transform="translate(701.2 109.4) skewX(-6) translate(-701.2 -109.4)">Ру=23,060 кВт;</text>
<text x="701.2" y="119.0" font-size="8.8" font-style="italic" fill="#333" text-anchor="start" textLength="52.0" lengthAdjust="spacingAndGlyphs" transform="translate(701.2 119.0) skewX(-6) translate(-701.2 -119.0)">Рр=14,582 кВт;</text>
<text x="701.2" y="128.6" font-size="8.8" font-style="italic" fill="#333" text-anchor="start" textLength="41.2" lengthAdjust="spacingAndGlyphs" transform="translate(701.2 128.6) skewX(-6) translate(-701.2 -128.6)">cosφ=0,962 ;</text>
<text x="701.2" y="138.2" font-size="8.8" font-style="italic" fill="#333" text-anchor="start" textLength="38.2" lengthAdjust="spacingAndGlyphs" transform="translate(701.2 138.2) skewX(-6) translate(-701.2 -138.2)">Iр=23,040 А</text>
<text x="702.6" y="195.0" font-size="8.8" font-style="italic" fill="#333" text-anchor="start" textLength="51.0" lengthAdjust="spacingAndGlyphs" transform="translate(702.6 195.0) skewX(-6) translate(-702.6 -195.0)">фаза А - 36%</text>
<text x="702.6" y="203.9" font-size="8.8" font-style="italic" fill="#333" text-anchor="start" textLength="51.0" lengthAdjust="spacingAndGlyphs" transform="translate(702.6 203.9) skewX(-6) translate(-702.6 -203.9)">фаза В - 31%</text>
<text x="702.6" y="212.8" font-size="8.8" font-style="italic" fill="#333" text-anchor="start" textLength="51.0" lengthAdjust="spacingAndGlyphs" transform="translate(702.6 212.8) skewX(-6) translate(-702.6 -212.8)">фаза С - 33%</text>
<line x1="175.2" y1="261.1" x2="960.9" y2="261.1" stroke="#3a3a3a" stroke-width="1.7" />
<line x1="175.2" y1="264.6" x2="960.9" y2="264.6" stroke="#777" stroke-width="1.0" />
<line x1="175.2" y1="268.0" x2="960.9" y2="268.0" stroke="#999" stroke-width="1.3" />
<text x="165.0" y="259.9" font-size="5.2" font-style="italic" fill="#333" text-anchor="middle" textLength="2.3" lengthAdjust="spacingAndGlyphs" stroke="#333" stroke-width="0.22" transform="translate(165.0 259.9) skewX(-6) translate(-165.0 -259.9)">L</text>
<text x="165.0" y="266.5" font-size="5.2" font-style="italic" fill="#333" text-anchor="middle" textLength="3.0" lengthAdjust="spacingAndGlyphs" stroke="#333" stroke-width="0.22" transform="translate(165.0 266.5) skewX(-6) translate(-165.0 -266.5)">N</text>
<text x="165.5" y="272.9" font-size="5.2" font-style="italic" fill="#333" text-anchor="middle" textLength="5.5" lengthAdjust="spacingAndGlyphs" stroke="#333" stroke-width="0.22" transform="translate(165.5 272.9) skewX(-6) translate(-165.5 -272.9)">PE</text>
<text x="206.9" y="255.0" font-size="7.0" font-style="italic" fill="#333" text-anchor="middle" textLength="50.0" lengthAdjust="spacingAndGlyphs" stroke="#333" stroke-width="0.22" transform="translate(206.9 255.0) skewX(-6) translate(-206.9 -255.0)">3LNPE-50Гц, 380/220В</text>
<circle cx="952.3" cy="264.6" r="1.5" fill="#2a2a2a" stroke="none" stroke-width="0"/>
<circle cx="952.3" cy="268.0" r="1.5" fill="#2a2a2a" stroke="none" stroke-width="0"/>
<polyline points="952.3,264.6 952.3,278.9 973.0,278.9" fill="none" stroke="#2a2a2a" stroke-width="1.0" />
<circle cx="973.0" cy="278.9" r="1.8" fill="#2a2a2a" stroke="none" stroke-width="0"/>
<line x1="252.8" y1="271.4" x2="373.4" y2="271.4" stroke="#333" stroke-width="1.0" />
<line x1="410.8" y1="271.4" x2="537.8" y2="271.4" stroke="#333" stroke-width="1.0" />
<line x1="569.6" y1="271.4" x2="739.4" y2="271.4" stroke="#333" stroke-width="1.0" />
<circle cx="191.8" cy="261.1" r="2.0" fill="#111" stroke="none" stroke-width="0"/>
<circle cx="194.3" cy="264.6" r="1.4" fill="#111" stroke="none" stroke-width="0"/>
<circle cx="196.8" cy="268.0" r="1.4" fill="#111" stroke="none" stroke-width="0"/>
<line x1="191.8" y1="261.1" x2="191.8" y2="282.9" stroke="#2a2a2a" stroke-width="1.0" />
<line x1="189.8" y1="273.7" x2="192.7" y2="272.4" stroke="#222" stroke-width="1.0" />
<line x1="189.8" y1="275.3" x2="192.7" y2="274.0" stroke="#222" stroke-width="1.0" />
<line x1="189.8" y1="276.9" x2="192.7" y2="275.6" stroke="#222" stroke-width="1.0" />
<line x1="194.3" y1="264.6" x2="194.3" y2="299.6" stroke="#555" stroke-width="0.9" />
<line x1="196.8" y1="268.0" x2="196.8" y2="299.6" stroke="#2a2a2a" stroke-width="0.9" />
<line x1="184.2" y1="282.9" x2="191.8" y2="298.2" stroke="#2a2a2a" stroke-width="1.0" />
<rect x="184.5" y="287.4" width="5.4" height="3.2" fill="#fff" stroke="#2a2a2a" stroke-width="0.75" transform="rotate(63.6 187.2 289.0)"/>
<line x1="196.8" y1="299.6" x2="191.8" y2="303.3" stroke="#2a2a2a" stroke-width="0.9" />
<line x1="191.8" y1="298.2" x2="191.8" y2="424.6" stroke="#555" stroke-width="1.0" />
<text x="210.3" y="283.0" font-size="7.0" font-style="italic" fill="#333" text-anchor="middle" textLength="10.0" lengthAdjust="spacingAndGlyphs" stroke="#333" stroke-width="0.22" transform="translate(210.3 283.0) skewX(-6) translate(-210.3 -283.0)">АВС</text>
<text x="210.3" y="291.1" font-size="7.0" font-style="italic" fill="#333" text-anchor="middle" textLength="9.5" lengthAdjust="spacingAndGlyphs" stroke="#333" stroke-width="0.22" transform="translate(210.3 291.1) skewX(-6) translate(-210.3 -291.1)">QF2</text>
<text x="210.3" y="299.2" font-size="7.0" font-style="italic" fill="#333" text-anchor="middle" textLength="18.9" lengthAdjust="spacingAndGlyphs" stroke="#333" stroke-width="0.22" transform="translate(210.3 299.2) skewX(-6) translate(-210.3 -299.2)">ВА47-29</text>
<text x="210.3" y="307.3" font-size="7.0" font-style="italic" fill="#333" text-anchor="middle" textLength="20.4" lengthAdjust="spacingAndGlyphs" stroke="#333" stroke-width="0.22" transform="translate(210.3 307.3) skewX(-6) translate(-210.3 -307.3)">3п. С16А</text>
<text x="187.3" y="376.7" font-size="5.8" font-style="italic" fill="#333" text-anchor="middle" textLength="34.6" lengthAdjust="spacingAndGlyphs" stroke="#333" stroke-width="0.22" transform="rotate(-90 187.3 374.6) translate(187.3 376.7) skewX(-6) translate(-187.3 -376.7)">ВВГнг-LS 5х2,5</text>
<text x="196.4" y="376.4" font-size="5.2" font-style="italic" fill="#666" text-anchor="middle" textLength="18.2" lengthAdjust="spacingAndGlyphs" stroke="#666" stroke-width="0.22" transform="rotate(-90 196.4 374.5) translate(196.4 376.4) skewX(-6) translate(-196.4 -376.4)">Lх___м</text>
<path d="M188.3,424.6 h7 v3.6 h-7 z M189.1,428 l1,2.8 l1,-2.8 z M192.5,428 l1,2.8 l1,-2.8 z" fill="#111"/>
<circle cx="231.5" cy="261.1" r="2.1" fill="#111" stroke="none" stroke-width="0"/>
<circle cx="236.0" cy="264.6" r="1.3" fill="#111" stroke="none" stroke-width="0"/>
<circle cx="238.5" cy="268.0" r="1.3" fill="#111" stroke="none" stroke-width="0"/>
<line x1="231.5" y1="261.1" x2="231.5" y2="282.5" stroke="#2a2a2a" stroke-width="1.0" />
<line x1="236.1" y1="264.6" x2="236.1" y2="283.0" stroke="#2a2a2a" stroke-width="1.0" />
<line x1="238.7" y1="268.0" x2="238.7" y2="324.8" stroke="#2a2a2a" stroke-width="0.9" />
<line x1="224.1" y1="283.0" x2="231.5" y2="299.6" stroke="#2a2a2a" stroke-width="1.0" />
<line x1="228.5" y1="283.0" x2="235.6" y2="299.6" stroke="#2a2a2a" stroke-width="1.0" />
<polyline points="227.9,291.6 223.5,291.6 223.5,302.5 229.5,302.5" fill="none" stroke="#2a2a2a" stroke-width="0.9" />
<ellipse cx="233.8" cy="302.5" rx="4.4" ry="2.3" fill="none" stroke="#2a2a2a" stroke-width="0.9"/>
<line x1="231.5" y1="299.6" x2="231.5" y2="424.9" stroke="#2a2a2a" stroke-width="1.0" />
<line x1="238.7" y1="324.8" x2="231.5" y2="330.0" stroke="#2a2a2a" stroke-width="0.9" />
<polyline points="231.5,424.9 259.5,424.9 259.5,271.4" fill="none" stroke="#2a2a2a" stroke-width="0.9" />
<circle cx="259.5" cy="271.4" r="1.3" fill="#111" stroke="none" stroke-width="0"/>
<text x="249.9" y="282.6" font-size="6.0" font-style="italic" fill="#333" text-anchor="middle" textLength="2.8" lengthAdjust="spacingAndGlyphs" stroke="#333" stroke-width="0.22" transform="translate(249.9 282.6) skewX(-6) translate(-249.9 -282.6)">А</text>
<text x="249.9" y="289.9" font-size="6.0" font-style="italic" fill="#333" text-anchor="middle" textLength="11.4" lengthAdjust="spacingAndGlyphs" stroke="#333" stroke-width="0.22" transform="translate(249.9 289.9) skewX(-6) translate(-249.9 -289.9)">QSD2</text>
<text x="249.9" y="297.2" font-size="6.0" font-style="italic" fill="#333" text-anchor="middle" textLength="14.1" lengthAdjust="spacingAndGlyphs" stroke="#333" stroke-width="0.22" transform="translate(249.9 297.2) skewX(-6) translate(-249.9 -297.2)">ВД1-63</text>
<text x="249.9" y="304.5" font-size="6.0" font-style="italic" fill="#333" text-anchor="middle" textLength="13.3" lengthAdjust="spacingAndGlyphs" stroke="#333" stroke-width="0.22" transform="translate(249.9 304.5) skewX(-6) translate(-249.9 -304.5)">2р 40А</text>
<text x="249.9" y="311.8" font-size="6.0" font-style="italic" fill="#333" text-anchor="middle" textLength="16.3" lengthAdjust="spacingAndGlyphs" stroke="#333" stroke-width="0.22" transform="translate(249.9 311.8) skewX(-6) translate(-249.9 -311.8)">dI=30мА</text>
<text x="249.9" y="319.1" font-size="6.0" font-style="italic" fill="#333" text-anchor="middle" textLength="14.9" lengthAdjust="spacingAndGlyphs" stroke="#333" stroke-width="0.22" transform="translate(249.9 319.1) skewX(-6) translate(-249.9 -319.1)">тип АС</text>
<text x="226.3" y="376.7" font-size="5.8" font-style="italic" fill="#333" text-anchor="middle" textLength="30.3" lengthAdjust="spacingAndGlyphs" stroke="#333" stroke-width="0.22" transform="rotate(-90 226.3 374.6) translate(226.3 376.7) skewX(-6) translate(-226.3 -376.7)">ВВГнг-LS 3х6</text>
<text x="236.3" y="376.1" font-size="5.2" font-style="italic" fill="#666" text-anchor="middle" textLength="17.3" lengthAdjust="spacingAndGlyphs" stroke="#666" stroke-width="0.22" transform="rotate(-90 236.3 374.2) translate(236.3 376.1) skewX(-6) translate(-236.3 -376.1)">Lх___м</text>
<circle cx="271.1" cy="271.4" r="1.9" fill="#111" stroke="none" stroke-width="0"/>
<circle cx="273.6" cy="264.6" r="1.2" fill="#111" stroke="none" stroke-width="0"/>
<circle cx="276.1" cy="268.0" r="1.2" fill="#111" stroke="none" stroke-width="0"/>
<line x1="271.1" y1="271.4" x2="271.1" y2="292.2" stroke="#2a2a2a" stroke-width="1.0" />
<line x1="269.1" y1="284.7" x2="272.0" y2="283.4" stroke="#222" stroke-width="1.3" />
<line x1="273.6" y1="264.6" x2="273.6" y2="310.0" stroke="#666" stroke-width="0.8" />
<line x1="276.1" y1="268.0" x2="276.1" y2="310.0" stroke="#2a2a2a" stroke-width="0.9" />
<line x1="263.5" y1="293.3" x2="271.1" y2="310.0" stroke="#2a2a2a" stroke-width="1.0" />
<rect x="263.8" y="298.4" width="5.4" height="3.2" fill="#fff" stroke="#2a2a2a" stroke-width="0.75" transform="rotate(65.5 266.5 300.0)"/>
<line x1="276.1" y1="310.0" x2="271.1" y2="314.5" stroke="#2a2a2a" stroke-width="0.9" />
<line x1="271.1" y1="310.0" x2="271.1" y2="424.6" stroke="#555" stroke-width="1.0" />
<text x="286.6" y="283.0" font-size="7.0" font-style="italic" fill="#333" text-anchor="middle" textLength="3.3" lengthAdjust="spacingAndGlyphs" stroke="#333" stroke-width="0.22" transform="translate(286.6 283.0) skewX(-6) translate(-286.6 -283.0)">А</text>
<text x="286.6" y="291.1" font-size="7.0" font-style="italic" fill="#333" text-anchor="middle" textLength="9.5" lengthAdjust="spacingAndGlyphs" stroke="#333" stroke-width="0.22" transform="translate(286.6 291.1) skewX(-6) translate(-286.6 -291.1)">QF3</text>
<text x="286.6" y="299.2" font-size="7.0" font-style="italic" fill="#333" text-anchor="middle" textLength="18.9" lengthAdjust="spacingAndGlyphs" stroke="#333" stroke-width="0.22" transform="translate(286.6 299.2) skewX(-6) translate(-286.6 -299.2)">ВА47-29</text>
<text x="286.6" y="307.3" font-size="7.0" font-style="italic" fill="#333" text-anchor="middle" textLength="20.1" lengthAdjust="spacingAndGlyphs" stroke="#333" stroke-width="0.22" transform="translate(286.6 307.3) skewX(-6) translate(-286.6 -307.3)">1п. В16А</text>
<text x="266.6" y="376.7" font-size="5.8" font-style="italic" fill="#333" text-anchor="middle" textLength="34.6" lengthAdjust="spacingAndGlyphs" stroke="#333" stroke-width="0.22" transform="rotate(-90 266.6 374.6) translate(266.6 376.7) skewX(-6) translate(-266.6 -376.7)">ВВГнг-LS 3х2,5</text>
<text x="275.7" y="376.4" font-size="5.2" font-style="italic" fill="#666" text-anchor="middle" textLength="18.2" lengthAdjust="spacingAndGlyphs" stroke="#666" stroke-width="0.22" transform="rotate(-90 275.7 374.5) translate(275.7 376.4) skewX(-6) translate(-275.7 -376.4)">Lх___м</text>
<path d="M267.6,424.6 h7 v3.6 h-7 z M268.4,428 l1,2.8 l1,-2.8 z M271.8,428 l1,2.8 l1,-2.8 z" fill="#111"/>
<circle cx="310.8" cy="271.4" r="1.9" fill="#111" stroke="none" stroke-width="0"/>
<circle cx="313.2" cy="264.6" r="1.2" fill="#111" stroke="none" stroke-width="0"/>
<circle cx="315.8" cy="268.0" r="1.2" fill="#111" stroke="none" stroke-width="0"/>
<line x1="310.8" y1="271.4" x2="310.8" y2="292.2" stroke="#2a2a2a" stroke-width="1.0" />
<line x1="308.8" y1="284.7" x2="311.6" y2="283.4" stroke="#222" stroke-width="1.3" />
<line x1="313.2" y1="264.6" x2="313.2" y2="310.0" stroke="#666" stroke-width="0.8" />
<line x1="315.8" y1="268.0" x2="315.8" y2="310.0" stroke="#2a2a2a" stroke-width="0.9" />
<line x1="303.1" y1="293.3" x2="310.8" y2="310.0" stroke="#2a2a2a" stroke-width="1.0" />
<rect x="303.5" y="298.4" width="5.4" height="3.2" fill="#fff" stroke="#2a2a2a" stroke-width="0.75" transform="rotate(65.5 306.2 300.0)"/>
<line x1="315.8" y1="310.0" x2="310.8" y2="314.5" stroke="#2a2a2a" stroke-width="0.9" />
<line x1="310.8" y1="310.0" x2="310.8" y2="424.6" stroke="#555" stroke-width="1.0" />
<text x="326.2" y="283.0" font-size="7.0" font-style="italic" fill="#333" text-anchor="middle" textLength="3.3" lengthAdjust="spacingAndGlyphs" stroke="#333" stroke-width="0.22" transform="translate(326.2 283.0) skewX(-6) translate(-326.2 -283.0)">А</text>
<text x="326.2" y="291.1" font-size="7.0" font-style="italic" fill="#333" text-anchor="middle" textLength="9.5" lengthAdjust="spacingAndGlyphs" stroke="#333" stroke-width="0.22" transform="translate(326.2 291.1) skewX(-6) translate(-326.2 -291.1)">QF4</text>
<text x="326.2" y="299.2" font-size="7.0" font-style="italic" fill="#333" text-anchor="middle" textLength="18.9" lengthAdjust="spacingAndGlyphs" stroke="#333" stroke-width="0.22" transform="translate(326.2 299.2) skewX(-6) translate(-326.2 -299.2)">ВА47-29</text>
<text x="326.2" y="307.3" font-size="7.0" font-style="italic" fill="#333" text-anchor="middle" textLength="20.1" lengthAdjust="spacingAndGlyphs" stroke="#333" stroke-width="0.22" transform="translate(326.2 307.3) skewX(-6) translate(-326.2 -307.3)">1п. В16А</text>
<text x="306.2" y="376.7" font-size="5.8" font-style="italic" fill="#333" text-anchor="middle" textLength="34.6" lengthAdjust="spacingAndGlyphs" stroke="#333" stroke-width="0.22" transform="rotate(-90 306.2 374.6) translate(306.2 376.7) skewX(-6) translate(-306.2 -376.7)">ВВГнг-LS 3х2,5</text>
<text x="315.4" y="376.4" font-size="5.2" font-style="italic" fill="#666" text-anchor="middle" textLength="18.2" lengthAdjust="spacingAndGlyphs" stroke="#666" stroke-width="0.22" transform="rotate(-90 315.4 374.5) translate(315.4 376.4) skewX(-6) translate(-315.4 -376.4)">Lх___м</text>
<path d="M307.2,424.6 h7 v3.6 h-7 z M308.1,428 l1,2.8 l1,-2.8 z M311.4,428 l1,2.8 l1,-2.8 z" fill="#111"/>
<circle cx="350.4" cy="271.4" r="1.9" fill="#111" stroke="none" stroke-width="0"/>
<circle cx="352.9" cy="264.6" r="1.2" fill="#111" stroke="none" stroke-width="0"/>
<circle cx="355.4" cy="268.0" r="1.2" fill="#111" stroke="none" stroke-width="0"/>
<line x1="350.4" y1="271.4" x2="350.4" y2="292.2" stroke="#2a2a2a" stroke-width="1.0" />
<line x1="348.4" y1="284.7" x2="351.3" y2="283.4" stroke="#222" stroke-width="1.3" />
<line x1="352.9" y1="264.6" x2="352.9" y2="310.0" stroke="#666" stroke-width="0.8" />
<line x1="355.4" y1="268.0" x2="355.4" y2="310.0" stroke="#2a2a2a" stroke-width="0.9" />
<line x1="342.8" y1="293.3" x2="350.4" y2="310.0" stroke="#2a2a2a" stroke-width="1.0" />
<rect x="343.1" y="298.4" width="5.4" height="3.2" fill="#fff" stroke="#2a2a2a" stroke-width="0.75" transform="rotate(65.5 345.8 300.0)"/>
<line x1="355.4" y1="310.0" x2="350.4" y2="314.5" stroke="#2a2a2a" stroke-width="0.9" />
<line x1="350.4" y1="310.0" x2="350.4" y2="424.6" stroke="#555" stroke-width="1.0" />
<text x="365.9" y="283.0" font-size="7.0" font-style="italic" fill="#333" text-anchor="middle" textLength="3.3" lengthAdjust="spacingAndGlyphs" stroke="#333" stroke-width="0.22" transform="translate(365.9 283.0) skewX(-6) translate(-365.9 -283.0)">А</text>
<text x="365.9" y="291.1" font-size="7.0" font-style="italic" fill="#333" text-anchor="middle" textLength="9.5" lengthAdjust="spacingAndGlyphs" stroke="#333" stroke-width="0.22" transform="translate(365.9 291.1) skewX(-6) translate(-365.9 -291.1)">QF5</text>
<text x="365.9" y="299.2" font-size="7.0" font-style="italic" fill="#333" text-anchor="middle" textLength="18.9" lengthAdjust="spacingAndGlyphs" stroke="#333" stroke-width="0.22" transform="translate(365.9 299.2) skewX(-6) translate(-365.9 -299.2)">ВА47-29</text>
<text x="365.9" y="307.3" font-size="7.0" font-style="italic" fill="#333" text-anchor="middle" textLength="20.1" lengthAdjust="spacingAndGlyphs" stroke="#333" stroke-width="0.22" transform="translate(365.9 307.3) skewX(-6) translate(-365.9 -307.3)">1п. В16А</text>
<text x="345.9" y="376.7" font-size="5.8" font-style="italic" fill="#333" text-anchor="middle" textLength="34.6" lengthAdjust="spacingAndGlyphs" stroke="#333" stroke-width="0.22" transform="rotate(-90 345.9 374.6) translate(345.9 376.7) skewX(-6) translate(-345.9 -376.7)">ВВГнг-LS 3х2,5</text>
<text x="355.0" y="376.4" font-size="5.2" font-style="italic" fill="#666" text-anchor="middle" textLength="18.2" lengthAdjust="spacingAndGlyphs" stroke="#666" stroke-width="0.22" transform="rotate(-90 355.0 374.5) translate(355.0 376.4) skewX(-6) translate(-355.0 -376.4)">Lх___м</text>
<path d="M346.9,424.6 h7 v3.6 h-7 z M347.7,428 l1,2.8 l1,-2.8 z M351.1,428 l1,2.8 l1,-2.8 z" fill="#111"/>
<circle cx="390.1" cy="261.1" r="2.1" fill="#111" stroke="none" stroke-width="0"/>
<circle cx="394.6" cy="264.6" r="1.3" fill="#111" stroke="none" stroke-width="0"/>
<circle cx="397.1" cy="268.0" r="1.3" fill="#111" stroke="none" stroke-width="0"/>
<line x1="390.1" y1="261.1" x2="390.1" y2="282.5" stroke="#2a2a2a" stroke-width="1.0" />
<line x1="394.7" y1="264.6" x2="394.7" y2="283.0" stroke="#2a2a2a" stroke-width="1.0" />
<line x1="397.2" y1="268.0" x2="397.2" y2="324.8" stroke="#2a2a2a" stroke-width="0.9" />
<line x1="382.7" y1="283.0" x2="390.1" y2="299.6" stroke="#2a2a2a" stroke-width="1.0" />
<line x1="387.1" y1="283.0" x2="394.2" y2="299.6" stroke="#2a2a2a" stroke-width="1.0" />
<polyline points="386.4,291.6 382.1,291.6 382.1,302.5 388.1,302.5" fill="none" stroke="#2a2a2a" stroke-width="0.9" />
<ellipse cx="392.4" cy="302.5" rx="4.4" ry="2.3" fill="none" stroke="#2a2a2a" stroke-width="0.9"/>
<line x1="390.1" y1="299.6" x2="390.1" y2="424.9" stroke="#2a2a2a" stroke-width="1.0" />
<line x1="397.2" y1="324.8" x2="390.1" y2="330.0" stroke="#2a2a2a" stroke-width="0.9" />
<polyline points="390.1,424.9 418.1,424.9 418.1,271.4" fill="none" stroke="#2a2a2a" stroke-width="0.9" />
<circle cx="418.1" cy="271.4" r="1.3" fill="#111" stroke="none" stroke-width="0"/>
<text x="408.4" y="282.6" font-size="6.0" font-style="italic" fill="#333" text-anchor="middle" textLength="2.8" lengthAdjust="spacingAndGlyphs" stroke="#333" stroke-width="0.22" transform="translate(408.4 282.6) skewX(-6) translate(-408.4 -282.6)">В</text>
<text x="408.4" y="289.9" font-size="6.0" font-style="italic" fill="#333" text-anchor="middle" textLength="11.4" lengthAdjust="spacingAndGlyphs" stroke="#333" stroke-width="0.22" transform="translate(408.4 289.9) skewX(-6) translate(-408.4 -289.9)">QSD3</text>
<text x="408.4" y="297.2" font-size="6.0" font-style="italic" fill="#333" text-anchor="middle" textLength="14.1" lengthAdjust="spacingAndGlyphs" stroke="#333" stroke-width="0.22" transform="translate(408.4 297.2) skewX(-6) translate(-408.4 -297.2)">ВД1-63</text>
<text x="408.4" y="304.5" font-size="6.0" font-style="italic" fill="#333" text-anchor="middle" textLength="13.3" lengthAdjust="spacingAndGlyphs" stroke="#333" stroke-width="0.22" transform="translate(408.4 304.5) skewX(-6) translate(-408.4 -304.5)">2р 40А</text>
<text x="408.4" y="311.8" font-size="6.0" font-style="italic" fill="#333" text-anchor="middle" textLength="16.3" lengthAdjust="spacingAndGlyphs" stroke="#333" stroke-width="0.22" transform="translate(408.4 311.8) skewX(-6) translate(-408.4 -311.8)">dI=30мА</text>
<text x="408.4" y="319.1" font-size="6.0" font-style="italic" fill="#333" text-anchor="middle" textLength="14.9" lengthAdjust="spacingAndGlyphs" stroke="#333" stroke-width="0.22" transform="translate(408.4 319.1) skewX(-6) translate(-408.4 -319.1)">тип АС</text>
<text x="384.9" y="376.7" font-size="5.8" font-style="italic" fill="#333" text-anchor="middle" textLength="30.3" lengthAdjust="spacingAndGlyphs" stroke="#333" stroke-width="0.22" transform="rotate(-90 384.9 374.6) translate(384.9 376.7) skewX(-6) translate(-384.9 -376.7)">ВВГнг-LS 3х6</text>
<text x="394.9" y="376.1" font-size="5.2" font-style="italic" fill="#666" text-anchor="middle" textLength="17.3" lengthAdjust="spacingAndGlyphs" stroke="#666" stroke-width="0.22" transform="rotate(-90 394.9 374.2) translate(394.9 376.1) skewX(-6) translate(-394.9 -376.1)">Lх___м</text>
<circle cx="429.7" cy="271.4" r="1.9" fill="#111" stroke="none" stroke-width="0"/>
<circle cx="432.2" cy="264.6" r="1.2" fill="#111" stroke="none" stroke-width="0"/>
<circle cx="434.7" cy="268.0" r="1.2" fill="#111" stroke="none" stroke-width="0"/>
<line x1="429.7" y1="271.4" x2="429.7" y2="292.2" stroke="#2a2a2a" stroke-width="1.0" />
<line x1="427.7" y1="284.7" x2="430.6" y2="283.4" stroke="#222" stroke-width="1.3" />
<line x1="432.2" y1="264.6" x2="432.2" y2="310.0" stroke="#666" stroke-width="0.8" />
<line x1="434.7" y1="268.0" x2="434.7" y2="310.0" stroke="#2a2a2a" stroke-width="0.9" />
<line x1="422.1" y1="293.3" x2="429.7" y2="310.0" stroke="#2a2a2a" stroke-width="1.0" />
<rect x="422.4" y="298.4" width="5.4" height="3.2" fill="#fff" stroke="#2a2a2a" stroke-width="0.75" transform="rotate(65.5 425.1 300.0)"/>
<line x1="434.7" y1="310.0" x2="429.7" y2="314.5" stroke="#2a2a2a" stroke-width="0.9" />
<line x1="429.7" y1="310.0" x2="429.7" y2="424.6" stroke="#555" stroke-width="1.0" />
<text x="445.2" y="283.0" font-size="7.0" font-style="italic" fill="#333" text-anchor="middle" textLength="3.3" lengthAdjust="spacingAndGlyphs" stroke="#333" stroke-width="0.22" transform="translate(445.2 283.0) skewX(-6) translate(-445.2 -283.0)">В</text>
<text x="445.2" y="291.1" font-size="7.0" font-style="italic" fill="#333" text-anchor="middle" textLength="9.5" lengthAdjust="spacingAndGlyphs" stroke="#333" stroke-width="0.22" transform="translate(445.2 291.1) skewX(-6) translate(-445.2 -291.1)">QF8</text>
<text x="445.2" y="299.2" font-size="7.0" font-style="italic" fill="#333" text-anchor="middle" textLength="18.9" lengthAdjust="spacingAndGlyphs" stroke="#333" stroke-width="0.22" transform="translate(445.2 299.2) skewX(-6) translate(-445.2 -299.2)">ВА47-29</text>
<text x="445.2" y="307.3" font-size="7.0" font-style="italic" fill="#333" text-anchor="middle" textLength="20.1" lengthAdjust="spacingAndGlyphs" stroke="#333" stroke-width="0.22" transform="translate(445.2 307.3) skewX(-6) translate(-445.2 -307.3)">1п. В16А</text>
<text x="425.2" y="376.7" font-size="5.8" font-style="italic" fill="#333" text-anchor="middle" textLength="34.6" lengthAdjust="spacingAndGlyphs" stroke="#333" stroke-width="0.22" transform="rotate(-90 425.2 374.6) translate(425.2 376.7) skewX(-6) translate(-425.2 -376.7)">ВВГнг-LS 3х2,5</text>
<text x="434.3" y="376.4" font-size="5.2" font-style="italic" fill="#666" text-anchor="middle" textLength="18.2" lengthAdjust="spacingAndGlyphs" stroke="#666" stroke-width="0.22" transform="rotate(-90 434.3 374.5) translate(434.3 376.4) skewX(-6) translate(-434.3 -376.4)">Lх___м</text>
<path d="M426.2,424.6 h7 v3.6 h-7 z M427.0,428 l1,2.8 l1,-2.8 z M430.4,428 l1,2.8 l1,-2.8 z" fill="#111"/>
<circle cx="469.4" cy="271.4" r="1.9" fill="#111" stroke="none" stroke-width="0"/>
<circle cx="471.9" cy="264.6" r="1.2" fill="#111" stroke="none" stroke-width="0"/>
<circle cx="474.4" cy="268.0" r="1.2" fill="#111" stroke="none" stroke-width="0"/>
<line x1="469.4" y1="271.4" x2="469.4" y2="292.2" stroke="#2a2a2a" stroke-width="1.0" />
<line x1="467.4" y1="284.7" x2="470.2" y2="283.4" stroke="#222" stroke-width="1.3" />
<line x1="471.9" y1="264.6" x2="471.9" y2="310.0" stroke="#666" stroke-width="0.8" />
<line x1="474.4" y1="268.0" x2="474.4" y2="310.0" stroke="#2a2a2a" stroke-width="0.9" />
<line x1="461.8" y1="293.3" x2="469.4" y2="310.0" stroke="#2a2a2a" stroke-width="1.0" />
<rect x="462.1" y="298.4" width="5.4" height="3.2" fill="#fff" stroke="#2a2a2a" stroke-width="0.75" transform="rotate(65.5 464.8 300.0)"/>
<line x1="474.4" y1="310.0" x2="469.4" y2="314.5" stroke="#2a2a2a" stroke-width="0.9" />
<line x1="469.4" y1="310.0" x2="469.4" y2="424.6" stroke="#555" stroke-width="1.0" />
<text x="484.9" y="283.0" font-size="7.0" font-style="italic" fill="#333" text-anchor="middle" textLength="3.3" lengthAdjust="spacingAndGlyphs" stroke="#333" stroke-width="0.22" transform="translate(484.9 283.0) skewX(-6) translate(-484.9 -283.0)">В</text>
<text x="484.9" y="291.1" font-size="7.0" font-style="italic" fill="#333" text-anchor="middle" textLength="9.5" lengthAdjust="spacingAndGlyphs" stroke="#333" stroke-width="0.22" transform="translate(484.9 291.1) skewX(-6) translate(-484.9 -291.1)">QF9</text>
<text x="484.9" y="299.2" font-size="7.0" font-style="italic" fill="#333" text-anchor="middle" textLength="18.9" lengthAdjust="spacingAndGlyphs" stroke="#333" stroke-width="0.22" transform="translate(484.9 299.2) skewX(-6) translate(-484.9 -299.2)">ВА47-29</text>
<text x="484.9" y="307.3" font-size="7.0" font-style="italic" fill="#333" text-anchor="middle" textLength="20.1" lengthAdjust="spacingAndGlyphs" stroke="#333" stroke-width="0.22" transform="translate(484.9 307.3) skewX(-6) translate(-484.9 -307.3)">1п. В16А</text>
<text x="464.9" y="376.7" font-size="5.8" font-style="italic" fill="#333" text-anchor="middle" textLength="34.6" lengthAdjust="spacingAndGlyphs" stroke="#333" stroke-width="0.22" transform="rotate(-90 464.9 374.6) translate(464.9 376.7) skewX(-6) translate(-464.9 -376.7)">ВВГнг-LS 3х2,5</text>
<text x="474.0" y="376.4" font-size="5.2" font-style="italic" fill="#666" text-anchor="middle" textLength="18.2" lengthAdjust="spacingAndGlyphs" stroke="#666" stroke-width="0.22" transform="rotate(-90 474.0 374.5) translate(474.0 376.4) skewX(-6) translate(-474.0 -376.4)">Lх___м</text>
<path d="M465.9,424.6 h7 v3.6 h-7 z M466.7,428 l1,2.8 l1,-2.8 z M470.1,428 l1,2.8 l1,-2.8 z" fill="#111"/>
<circle cx="509.0" cy="271.4" r="1.9" fill="#111" stroke="none" stroke-width="0"/>
<circle cx="511.5" cy="264.6" r="1.2" fill="#111" stroke="none" stroke-width="0"/>
<circle cx="514.0" cy="268.0" r="1.2" fill="#111" stroke="none" stroke-width="0"/>
<line x1="509.0" y1="271.4" x2="509.0" y2="292.2" stroke="#2a2a2a" stroke-width="1.0" />
<line x1="507.0" y1="284.7" x2="509.9" y2="283.4" stroke="#222" stroke-width="1.3" />
<line x1="511.5" y1="264.6" x2="511.5" y2="310.0" stroke="#666" stroke-width="0.8" />
<line x1="514.0" y1="268.0" x2="514.0" y2="310.0" stroke="#2a2a2a" stroke-width="0.9" />
<line x1="501.4" y1="293.3" x2="509.0" y2="310.0" stroke="#2a2a2a" stroke-width="1.0" />
<rect x="501.7" y="298.4" width="5.4" height="3.2" fill="#fff" stroke="#2a2a2a" stroke-width="0.75" transform="rotate(65.5 504.4 300.0)"/>
<line x1="514.0" y1="310.0" x2="509.0" y2="314.5" stroke="#2a2a2a" stroke-width="0.9" />
<line x1="509.0" y1="310.0" x2="509.0" y2="424.6" stroke="#555" stroke-width="1.0" />
<text x="524.5" y="283.0" font-size="7.0" font-style="italic" fill="#333" text-anchor="middle" textLength="3.3" lengthAdjust="spacingAndGlyphs" stroke="#333" stroke-width="0.22" transform="translate(524.5 283.0) skewX(-6) translate(-524.5 -283.0)">В</text>
<text x="524.5" y="291.1" font-size="7.0" font-style="italic" fill="#333" text-anchor="middle" textLength="12.3" lengthAdjust="spacingAndGlyphs" stroke="#333" stroke-width="0.22" transform="translate(524.5 291.1) skewX(-6) translate(-524.5 -291.1)">QF10</text>
<text x="524.5" y="299.2" font-size="7.0" font-style="italic" fill="#333" text-anchor="middle" textLength="18.9" lengthAdjust="spacingAndGlyphs" stroke="#333" stroke-width="0.22" transform="translate(524.5 299.2) skewX(-6) translate(-524.5 -299.2)">ВА47-29</text>
<text x="524.5" y="307.3" font-size="7.0" font-style="italic" fill="#333" text-anchor="middle" textLength="20.1" lengthAdjust="spacingAndGlyphs" stroke="#333" stroke-width="0.22" transform="translate(524.5 307.3) skewX(-6) translate(-524.5 -307.3)">1п. В16А</text>
<text x="504.5" y="376.7" font-size="5.8" font-style="italic" fill="#333" text-anchor="middle" textLength="34.6" lengthAdjust="spacingAndGlyphs" stroke="#333" stroke-width="0.22" transform="rotate(-90 504.5 374.6) translate(504.5 376.7) skewX(-6) translate(-504.5 -376.7)">ВВГнг-LS 3х2,5</text>
<text x="513.6" y="376.4" font-size="5.2" font-style="italic" fill="#666" text-anchor="middle" textLength="18.2" lengthAdjust="spacingAndGlyphs" stroke="#666" stroke-width="0.22" transform="rotate(-90 513.6 374.5) translate(513.6 376.4) skewX(-6) translate(-513.6 -376.4)">Lх___м</text>
<path d="M505.5,424.6 h7 v3.6 h-7 z M506.3,428 l1,2.8 l1,-2.8 z M509.7,428 l1,2.8 l1,-2.8 z" fill="#111"/>
<circle cx="548.6" cy="261.1" r="2.1" fill="#111" stroke="none" stroke-width="0"/>
<circle cx="553.1" cy="264.6" r="1.3" fill="#111" stroke="none" stroke-width="0"/>
<circle cx="555.6" cy="268.0" r="1.3" fill="#111" stroke="none" stroke-width="0"/>
<line x1="548.6" y1="261.1" x2="548.6" y2="282.5" stroke="#2a2a2a" stroke-width="1.0" />
<line x1="553.2" y1="264.6" x2="553.2" y2="283.0" stroke="#2a2a2a" stroke-width="1.0" />
<line x1="555.9" y1="268.0" x2="555.9" y2="324.8" stroke="#2a2a2a" stroke-width="0.9" />
<line x1="541.2" y1="283.0" x2="548.6" y2="299.6" stroke="#2a2a2a" stroke-width="1.0" />
<line x1="545.6" y1="283.0" x2="552.8" y2="299.6" stroke="#2a2a2a" stroke-width="1.0" />
<polyline points="545.0,291.6 540.6,291.6 540.6,302.5 546.6,302.5" fill="none" stroke="#2a2a2a" stroke-width="0.9" />
<ellipse cx="550.9" cy="302.5" rx="4.4" ry="2.3" fill="none" stroke="#2a2a2a" stroke-width="0.9"/>
<line x1="548.6" y1="299.6" x2="548.6" y2="424.9" stroke="#2a2a2a" stroke-width="1.0" />
<line x1="555.9" y1="324.8" x2="548.6" y2="330.0" stroke="#2a2a2a" stroke-width="0.9" />
<polyline points="548.6,424.9 576.6,424.9 576.6,271.4" fill="none" stroke="#2a2a2a" stroke-width="0.9" />
<circle cx="576.6" cy="271.4" r="1.3" fill="#111" stroke="none" stroke-width="0"/>
<text x="567.0" y="282.6" font-size="6.0" font-style="italic" fill="#333" text-anchor="middle" textLength="3.0" lengthAdjust="spacingAndGlyphs" stroke="#333" stroke-width="0.22" transform="translate(567.0 282.6) skewX(-6) translate(-567.0 -282.6)">С</text>
<text x="567.0" y="289.9" font-size="6.0" font-style="italic" fill="#333" text-anchor="middle" textLength="11.4" lengthAdjust="spacingAndGlyphs" stroke="#333" stroke-width="0.22" transform="translate(567.0 289.9) skewX(-6) translate(-567.0 -289.9)">QSD4</text>
<text x="567.0" y="297.2" font-size="6.0" font-style="italic" fill="#333" text-anchor="middle" textLength="14.1" lengthAdjust="spacingAndGlyphs" stroke="#333" stroke-width="0.22" transform="translate(567.0 297.2) skewX(-6) translate(-567.0 -297.2)">ВД1-63</text>
<text x="567.0" y="304.5" font-size="6.0" font-style="italic" fill="#333" text-anchor="middle" textLength="13.3" lengthAdjust="spacingAndGlyphs" stroke="#333" stroke-width="0.22" transform="translate(567.0 304.5) skewX(-6) translate(-567.0 -304.5)">2р 40А</text>
<text x="567.0" y="311.8" font-size="6.0" font-style="italic" fill="#333" text-anchor="middle" textLength="16.3" lengthAdjust="spacingAndGlyphs" stroke="#333" stroke-width="0.22" transform="translate(567.0 311.8) skewX(-6) translate(-567.0 -311.8)">dI=30мА</text>
<text x="567.0" y="319.1" font-size="6.0" font-style="italic" fill="#333" text-anchor="middle" textLength="14.9" lengthAdjust="spacingAndGlyphs" stroke="#333" stroke-width="0.22" transform="translate(567.0 319.1) skewX(-6) translate(-567.0 -319.1)">тип АС</text>
<text x="543.4" y="376.7" font-size="5.8" font-style="italic" fill="#333" text-anchor="middle" textLength="30.3" lengthAdjust="spacingAndGlyphs" stroke="#333" stroke-width="0.22" transform="rotate(-90 543.4 374.6) translate(543.4 376.7) skewX(-6) translate(-543.4 -376.7)">ВВГнг-LS 3х6</text>
<text x="553.4" y="376.1" font-size="5.2" font-style="italic" fill="#666" text-anchor="middle" textLength="17.3" lengthAdjust="spacingAndGlyphs" stroke="#666" stroke-width="0.22" transform="rotate(-90 553.4 374.2) translate(553.4 376.1) skewX(-6) translate(-553.4 -376.1)">Lх___м</text>
<circle cx="588.3" cy="271.4" r="1.9" fill="#111" stroke="none" stroke-width="0"/>
<circle cx="590.8" cy="264.6" r="1.2" fill="#111" stroke="none" stroke-width="0"/>
<circle cx="593.3" cy="268.0" r="1.2" fill="#111" stroke="none" stroke-width="0"/>
<line x1="588.3" y1="271.4" x2="588.3" y2="292.2" stroke="#2a2a2a" stroke-width="1.0" />
<line x1="586.3" y1="284.7" x2="589.2" y2="283.4" stroke="#222" stroke-width="1.3" />
<line x1="590.8" y1="264.6" x2="590.8" y2="310.0" stroke="#666" stroke-width="0.8" />
<line x1="593.3" y1="268.0" x2="593.3" y2="310.0" stroke="#2a2a2a" stroke-width="0.9" />
<line x1="580.7" y1="293.3" x2="588.3" y2="310.0" stroke="#2a2a2a" stroke-width="1.0" />
<rect x="581.0" y="298.4" width="5.4" height="3.2" fill="#fff" stroke="#2a2a2a" stroke-width="0.75" transform="rotate(65.5 583.7 300.0)"/>
<line x1="593.3" y1="310.0" x2="588.3" y2="314.5" stroke="#2a2a2a" stroke-width="0.9" />
<line x1="588.3" y1="310.0" x2="588.3" y2="424.6" stroke="#555" stroke-width="1.0" />
<text x="603.8" y="283.0" font-size="7.0" font-style="italic" fill="#333" text-anchor="middle" textLength="3.5" lengthAdjust="spacingAndGlyphs" stroke="#333" stroke-width="0.22" transform="translate(603.8 283.0) skewX(-6) translate(-603.8 -283.0)">С</text>
<text x="603.8" y="291.1" font-size="7.0" font-style="italic" fill="#333" text-anchor="middle" textLength="12.3" lengthAdjust="spacingAndGlyphs" stroke="#333" stroke-width="0.22" transform="translate(603.8 291.1) skewX(-6) translate(-603.8 -291.1)">QF14</text>
<text x="603.8" y="299.2" font-size="7.0" font-style="italic" fill="#333" text-anchor="middle" textLength="18.9" lengthAdjust="spacingAndGlyphs" stroke="#333" stroke-width="0.22" transform="translate(603.8 299.2) skewX(-6) translate(-603.8 -299.2)">ВА47-29</text>
<text x="603.8" y="307.3" font-size="7.0" font-style="italic" fill="#333" text-anchor="middle" textLength="20.1" lengthAdjust="spacingAndGlyphs" stroke="#333" stroke-width="0.22" transform="translate(603.8 307.3) skewX(-6) translate(-603.8 -307.3)">1п. В16А</text>
<text x="583.8" y="376.7" font-size="5.8" font-style="italic" fill="#333" text-anchor="middle" textLength="34.6" lengthAdjust="spacingAndGlyphs" stroke="#333" stroke-width="0.22" transform="rotate(-90 583.8 374.6) translate(583.8 376.7) skewX(-6) translate(-583.8 -376.7)">ВВГнг-LS 3х2,5</text>
<text x="592.9" y="376.4" font-size="5.2" font-style="italic" fill="#666" text-anchor="middle" textLength="18.2" lengthAdjust="spacingAndGlyphs" stroke="#666" stroke-width="0.22" transform="rotate(-90 592.9 374.5) translate(592.9 376.4) skewX(-6) translate(-592.9 -376.4)">Lх___м</text>
<path d="M584.8,424.6 h7 v3.6 h-7 z M585.6,428 l1,2.8 l1,-2.8 z M589.0,428 l1,2.8 l1,-2.8 z" fill="#111"/>
<circle cx="628.0" cy="271.4" r="1.9" fill="#111" stroke="none" stroke-width="0"/>
<circle cx="630.5" cy="264.6" r="1.2" fill="#111" stroke="none" stroke-width="0"/>
<circle cx="633.0" cy="268.0" r="1.2" fill="#111" stroke="none" stroke-width="0"/>
<line x1="628.0" y1="271.4" x2="628.0" y2="292.2" stroke="#2a2a2a" stroke-width="1.0" />
<line x1="626.0" y1="284.7" x2="628.9" y2="283.4" stroke="#222" stroke-width="1.3" />
<line x1="630.5" y1="264.6" x2="630.5" y2="310.0" stroke="#666" stroke-width="0.8" />
<line x1="633.0" y1="268.0" x2="633.0" y2="310.0" stroke="#2a2a2a" stroke-width="0.9" />
<line x1="620.4" y1="293.3" x2="628.0" y2="310.0" stroke="#2a2a2a" stroke-width="1.0" />
<rect x="620.7" y="298.4" width="5.4" height="3.2" fill="#fff" stroke="#2a2a2a" stroke-width="0.75" transform="rotate(65.5 623.4 300.0)"/>
<line x1="633.0" y1="310.0" x2="628.0" y2="314.5" stroke="#2a2a2a" stroke-width="0.9" />
<line x1="628.0" y1="310.0" x2="628.0" y2="424.6" stroke="#555" stroke-width="1.0" />
<text x="643.5" y="283.0" font-size="7.0" font-style="italic" fill="#333" text-anchor="middle" textLength="3.5" lengthAdjust="spacingAndGlyphs" stroke="#333" stroke-width="0.22" transform="translate(643.5 283.0) skewX(-6) translate(-643.5 -283.0)">С</text>
<text x="643.5" y="291.1" font-size="7.0" font-style="italic" fill="#333" text-anchor="middle" textLength="12.3" lengthAdjust="spacingAndGlyphs" stroke="#333" stroke-width="0.22" transform="translate(643.5 291.1) skewX(-6) translate(-643.5 -291.1)">QF15</text>
<text x="643.5" y="299.2" font-size="7.0" font-style="italic" fill="#333" text-anchor="middle" textLength="18.9" lengthAdjust="spacingAndGlyphs" stroke="#333" stroke-width="0.22" transform="translate(643.5 299.2) skewX(-6) translate(-643.5 -299.2)">ВА47-29</text>
<text x="643.5" y="307.3" font-size="7.0" font-style="italic" fill="#333" text-anchor="middle" textLength="20.1" lengthAdjust="spacingAndGlyphs" stroke="#333" stroke-width="0.22" transform="translate(643.5 307.3) skewX(-6) translate(-643.5 -307.3)">1п. В16А</text>
<text x="623.5" y="376.7" font-size="5.8" font-style="italic" fill="#333" text-anchor="middle" textLength="34.6" lengthAdjust="spacingAndGlyphs" stroke="#333" stroke-width="0.22" transform="rotate(-90 623.5 374.6) translate(623.5 376.7) skewX(-6) translate(-623.5 -376.7)">ВВГнг-LS 3х2,5</text>
<text x="632.6" y="376.4" font-size="5.2" font-style="italic" fill="#666" text-anchor="middle" textLength="18.2" lengthAdjust="spacingAndGlyphs" stroke="#666" stroke-width="0.22" transform="rotate(-90 632.6 374.5) translate(632.6 376.4) skewX(-6) translate(-632.6 -376.4)">Lх___м</text>
<path d="M624.5,424.6 h7 v3.6 h-7 z M625.2,428 l1,2.8 l1,-2.8 z M628.7,428 l1,2.8 l1,-2.8 z" fill="#111"/>
<circle cx="667.6" cy="271.4" r="1.9" fill="#111" stroke="none" stroke-width="0"/>
<circle cx="670.1" cy="264.6" r="1.2" fill="#111" stroke="none" stroke-width="0"/>
<circle cx="672.6" cy="268.0" r="1.2" fill="#111" stroke="none" stroke-width="0"/>
<line x1="667.6" y1="271.4" x2="667.6" y2="292.2" stroke="#2a2a2a" stroke-width="1.0" />
<line x1="665.6" y1="284.7" x2="668.5" y2="283.4" stroke="#222" stroke-width="1.3" />
<line x1="670.1" y1="264.6" x2="670.1" y2="310.0" stroke="#666" stroke-width="0.8" />
<line x1="672.6" y1="268.0" x2="672.6" y2="310.0" stroke="#2a2a2a" stroke-width="0.9" />
<line x1="660.0" y1="293.3" x2="667.6" y2="310.0" stroke="#2a2a2a" stroke-width="1.0" />
<rect x="660.3" y="298.4" width="5.4" height="3.2" fill="#fff" stroke="#2a2a2a" stroke-width="0.75" transform="rotate(65.5 663.0 300.0)"/>
<line x1="672.6" y1="310.0" x2="667.6" y2="314.5" stroke="#2a2a2a" stroke-width="0.9" />
<line x1="667.6" y1="310.0" x2="667.6" y2="424.6" stroke="#555" stroke-width="1.0" />
<text x="683.1" y="283.0" font-size="7.0" font-style="italic" fill="#333" text-anchor="middle" textLength="3.5" lengthAdjust="spacingAndGlyphs" stroke="#333" stroke-width="0.22" transform="translate(683.1 283.0) skewX(-6) translate(-683.1 -283.0)">С</text>
<text x="683.1" y="291.1" font-size="7.0" font-style="italic" fill="#333" text-anchor="middle" textLength="12.3" lengthAdjust="spacingAndGlyphs" stroke="#333" stroke-width="0.22" transform="translate(683.1 291.1) skewX(-6) translate(-683.1 -291.1)">QF16</text>
<text x="683.1" y="299.2" font-size="7.0" font-style="italic" fill="#333" text-anchor="middle" textLength="18.9" lengthAdjust="spacingAndGlyphs" stroke="#333" stroke-width="0.22" transform="translate(683.1 299.2) skewX(-6) translate(-683.1 -299.2)">ВА47-29</text>
<text x="683.1" y="307.3" font-size="7.0" font-style="italic" fill="#333" text-anchor="middle" textLength="17.4" lengthAdjust="spacingAndGlyphs" stroke="#333" stroke-width="0.22" transform="translate(683.1 307.3) skewX(-6) translate(-683.1 -307.3)">1п. В6А</text>
<text x="663.1" y="376.7" font-size="5.8" font-style="italic" fill="#333" text-anchor="middle" textLength="34.6" lengthAdjust="spacingAndGlyphs" stroke="#333" stroke-width="0.22" transform="rotate(-90 663.1 374.6) translate(663.1 376.7) skewX(-6) translate(-663.1 -376.7)">ВВГнг-LS 3х1,5</text>
<text x="672.2" y="376.4" font-size="5.2" font-style="italic" fill="#666" text-anchor="middle" textLength="18.2" lengthAdjust="spacingAndGlyphs" stroke="#666" stroke-width="0.22" transform="rotate(-90 672.2 374.5) translate(672.2 376.4) skewX(-6) translate(-672.2 -376.4)">Lх___м</text>
<circle cx="667.6" cy="428.4" r="3.1" fill="#fff" stroke="#f3ef3a" stroke-width="1.7"/>
<circle cx="667.6" cy="428.4" r="1.5" fill="#ee0000"/>
<circle cx="707.2" cy="271.4" r="1.9" fill="#111" stroke="none" stroke-width="0"/>
<circle cx="709.8" cy="264.6" r="1.2" fill="#111" stroke="none" stroke-width="0"/>
<circle cx="712.2" cy="268.0" r="1.2" fill="#111" stroke="none" stroke-width="0"/>
<line x1="707.2" y1="271.4" x2="707.2" y2="292.2" stroke="#2a2a2a" stroke-width="1.0" />
<line x1="705.2" y1="284.7" x2="708.1" y2="283.4" stroke="#222" stroke-width="1.3" />
<line x1="709.8" y1="264.6" x2="709.8" y2="310.0" stroke="#666" stroke-width="0.8" />
<line x1="712.2" y1="268.0" x2="712.2" y2="310.0" stroke="#2a2a2a" stroke-width="0.9" />
<line x1="699.6" y1="293.3" x2="707.2" y2="310.0" stroke="#2a2a2a" stroke-width="1.0" />
<rect x="700.0" y="298.4" width="5.4" height="3.2" fill="#fff" stroke="#2a2a2a" stroke-width="0.75" transform="rotate(65.5 702.7 300.0)"/>
<line x1="712.2" y1="310.0" x2="707.2" y2="314.5" stroke="#2a2a2a" stroke-width="0.9" />
<line x1="707.2" y1="310.0" x2="707.2" y2="424.6" stroke="#555" stroke-width="1.0" />
<text x="722.8" y="283.0" font-size="7.0" font-style="italic" fill="#333" text-anchor="middle" textLength="3.5" lengthAdjust="spacingAndGlyphs" stroke="#333" stroke-width="0.22" transform="translate(722.8 283.0) skewX(-6) translate(-722.8 -283.0)">С</text>
<text x="722.8" y="291.1" font-size="7.0" font-style="italic" fill="#333" text-anchor="middle" textLength="12.3" lengthAdjust="spacingAndGlyphs" stroke="#333" stroke-width="0.22" transform="translate(722.8 291.1) skewX(-6) translate(-722.8 -291.1)">QF17</text>
<text x="722.8" y="299.2" font-size="7.0" font-style="italic" fill="#333" text-anchor="middle" textLength="18.9" lengthAdjust="spacingAndGlyphs" stroke="#333" stroke-width="0.22" transform="translate(722.8 299.2) skewX(-6) translate(-722.8 -299.2)">ВА47-29</text>
<text x="722.8" y="307.3" font-size="7.0" font-style="italic" fill="#333" text-anchor="middle" textLength="17.4" lengthAdjust="spacingAndGlyphs" stroke="#333" stroke-width="0.22" transform="translate(722.8 307.3) skewX(-6) translate(-722.8 -307.3)">1п. В6А</text>
<text x="702.8" y="376.7" font-size="5.8" font-style="italic" fill="#333" text-anchor="middle" textLength="34.6" lengthAdjust="spacingAndGlyphs" stroke="#333" stroke-width="0.22" transform="rotate(-90 702.8 374.6) translate(702.8 376.7) skewX(-6) translate(-702.8 -376.7)">ВВГнг-LS 3х1,5</text>
<text x="711.9" y="376.4" font-size="5.2" font-style="italic" fill="#666" text-anchor="middle" textLength="18.2" lengthAdjust="spacingAndGlyphs" stroke="#666" stroke-width="0.22" transform="rotate(-90 711.9 374.5) translate(711.9 376.4) skewX(-6) translate(-711.9 -376.4)">Lх___м</text>
<circle cx="707.2" cy="428.4" r="3.1" fill="#fff" stroke="#f3ef3a" stroke-width="1.7"/>
<circle cx="707.2" cy="428.4" r="1.5" fill="#ee0000"/>
<circle cx="746.9" cy="261.1" r="1.7" fill="#111" stroke="none" stroke-width="0"/>
<circle cx="749.4" cy="264.6" r="1.2" fill="#111" stroke="none" stroke-width="0"/>
<circle cx="751.9" cy="268.0" r="1.2" fill="#111" stroke="none" stroke-width="0"/>
<line x1="746.9" y1="261.1" x2="746.9" y2="292.2" stroke="#2a2a2a" stroke-width="1.0" />
<line x1="744.9" y1="284.7" x2="747.8" y2="283.4" stroke="#222" stroke-width="1.3" />
<line x1="749.4" y1="264.6" x2="749.4" y2="310.0" stroke="#666" stroke-width="0.8" />
<line x1="751.9" y1="268.0" x2="751.9" y2="310.0" stroke="#2a2a2a" stroke-width="0.9" />
<line x1="739.3" y1="293.3" x2="746.9" y2="310.0" stroke="#2a2a2a" stroke-width="1.0" />
<rect x="739.6" y="298.4" width="5.4" height="3.2" fill="#fff" stroke="#2a2a2a" stroke-width="0.75" transform="rotate(65.5 742.3 300.0)"/>
<line x1="751.9" y1="310.0" x2="746.9" y2="314.5" stroke="#2a2a2a" stroke-width="0.9" />
<line x1="746.9" y1="310.0" x2="746.9" y2="424.6" stroke="#555" stroke-width="1.0" />
<text x="762.4" y="283.0" font-size="7.0" font-style="italic" fill="#333" text-anchor="middle" textLength="3.3" lengthAdjust="spacingAndGlyphs" stroke="#333" stroke-width="0.22" transform="translate(762.4 283.0) skewX(-6) translate(-762.4 -283.0)">А</text>
<text x="762.4" y="291.1" font-size="7.0" font-style="italic" fill="#333" text-anchor="middle" textLength="9.5" lengthAdjust="spacingAndGlyphs" stroke="#333" stroke-width="0.22" transform="translate(762.4 291.1) skewX(-6) translate(-762.4 -291.1)">QF6</text>
<text x="762.4" y="299.2" font-size="7.0" font-style="italic" fill="#333" text-anchor="middle" textLength="18.9" lengthAdjust="spacingAndGlyphs" stroke="#333" stroke-width="0.22" transform="translate(762.4 299.2) skewX(-6) translate(-762.4 -299.2)">ВА47-29</text>
<text x="762.4" y="307.3" font-size="7.0" font-style="italic" fill="#333" text-anchor="middle" textLength="17.4" lengthAdjust="spacingAndGlyphs" stroke="#333" stroke-width="0.22" transform="translate(762.4 307.3) skewX(-6) translate(-762.4 -307.3)">1п. В6А</text>
<text x="742.4" y="376.7" font-size="5.8" font-style="italic" fill="#333" text-anchor="middle" textLength="34.6" lengthAdjust="spacingAndGlyphs" stroke="#333" stroke-width="0.22" transform="rotate(-90 742.4 374.6) translate(742.4 376.7) skewX(-6) translate(-742.4 -376.7)">ВВГнг-LS 3х1,5</text>
<text x="751.5" y="376.4" font-size="5.2" font-style="italic" fill="#666" text-anchor="middle" textLength="18.2" lengthAdjust="spacingAndGlyphs" stroke="#666" stroke-width="0.22" transform="rotate(-90 751.5 374.5) translate(751.5 376.4) skewX(-6) translate(-751.5 -376.4)">Lх___м</text>
<circle cx="746.9" cy="428.4" r="3.1" fill="#fff" stroke="#f3ef3a" stroke-width="1.7"/>
<circle cx="746.9" cy="428.4" r="1.5" fill="#ee0000"/>
<circle cx="786.5" cy="261.1" r="1.7" fill="#111" stroke="none" stroke-width="0"/>
<circle cx="789.0" cy="264.6" r="1.2" fill="#111" stroke="none" stroke-width="0"/>
<circle cx="791.5" cy="268.0" r="1.2" fill="#111" stroke="none" stroke-width="0"/>
<line x1="786.5" y1="261.1" x2="786.5" y2="292.2" stroke="#2a2a2a" stroke-width="1.0" />
<line x1="784.5" y1="284.7" x2="787.4" y2="283.4" stroke="#222" stroke-width="1.3" />
<line x1="789.0" y1="264.6" x2="789.0" y2="310.0" stroke="#666" stroke-width="0.8" />
<line x1="791.5" y1="268.0" x2="791.5" y2="310.0" stroke="#2a2a2a" stroke-width="0.9" />
<line x1="778.9" y1="293.3" x2="786.5" y2="310.0" stroke="#2a2a2a" stroke-width="1.0" />
<rect x="779.3" y="298.4" width="5.4" height="3.2" fill="#fff" stroke="#2a2a2a" stroke-width="0.75" transform="rotate(65.5 782.0 300.0)"/>
<line x1="791.5" y1="310.0" x2="786.5" y2="314.5" stroke="#2a2a2a" stroke-width="0.9" />
<line x1="786.5" y1="310.0" x2="786.5" y2="424.6" stroke="#555" stroke-width="1.0" />
<text x="802.0" y="283.0" font-size="7.0" font-style="italic" fill="#333" text-anchor="middle" textLength="3.3" lengthAdjust="spacingAndGlyphs" stroke="#333" stroke-width="0.22" transform="translate(802.0 283.0) skewX(-6) translate(-802.0 -283.0)">А</text>
<text x="802.0" y="291.1" font-size="7.0" font-style="italic" fill="#333" text-anchor="middle" textLength="9.5" lengthAdjust="spacingAndGlyphs" stroke="#333" stroke-width="0.22" transform="translate(802.0 291.1) skewX(-6) translate(-802.0 -291.1)">QF7</text>
<text x="802.0" y="299.2" font-size="7.0" font-style="italic" fill="#333" text-anchor="middle" textLength="18.9" lengthAdjust="spacingAndGlyphs" stroke="#333" stroke-width="0.22" transform="translate(802.0 299.2) skewX(-6) translate(-802.0 -299.2)">ВА47-29</text>
<text x="802.0" y="307.3" font-size="7.0" font-style="italic" fill="#333" text-anchor="middle" textLength="17.4" lengthAdjust="spacingAndGlyphs" stroke="#333" stroke-width="0.22" transform="translate(802.0 307.3) skewX(-6) translate(-802.0 -307.3)">1п. В6А</text>
<text x="782.0" y="376.7" font-size="5.8" font-style="italic" fill="#333" text-anchor="middle" textLength="34.6" lengthAdjust="spacingAndGlyphs" stroke="#333" stroke-width="0.22" transform="rotate(-90 782.0 374.6) translate(782.0 376.7) skewX(-6) translate(-782.0 -376.7)">ВВГнг-LS 3х1,5</text>
<text x="791.1" y="376.4" font-size="5.2" font-style="italic" fill="#666" text-anchor="middle" textLength="18.2" lengthAdjust="spacingAndGlyphs" stroke="#666" stroke-width="0.22" transform="rotate(-90 791.1 374.5) translate(791.1 376.4) skewX(-6) translate(-791.1 -376.4)">Lх___м</text>
<circle cx="786.5" cy="428.4" r="3.1" fill="#fff" stroke="#f3ef3a" stroke-width="1.7"/>
<circle cx="786.5" cy="428.4" r="1.5" fill="#ee0000"/>
<circle cx="826.2" cy="261.1" r="1.7" fill="#111" stroke="none" stroke-width="0"/>
<circle cx="828.7" cy="264.6" r="1.2" fill="#111" stroke="none" stroke-width="0"/>
<circle cx="831.2" cy="268.0" r="1.2" fill="#111" stroke="none" stroke-width="0"/>
<line x1="826.2" y1="261.1" x2="826.2" y2="292.2" stroke="#2a2a2a" stroke-width="1.0" />
<line x1="824.2" y1="284.7" x2="827.1" y2="283.4" stroke="#222" stroke-width="1.3" />
<line x1="828.7" y1="264.6" x2="828.7" y2="310.0" stroke="#666" stroke-width="0.8" />
<line x1="831.2" y1="268.0" x2="831.2" y2="310.0" stroke="#2a2a2a" stroke-width="0.9" />
<line x1="818.6" y1="293.3" x2="826.2" y2="310.0" stroke="#2a2a2a" stroke-width="1.0" />
<rect x="818.9" y="298.4" width="5.4" height="3.2" fill="#fff" stroke="#2a2a2a" stroke-width="0.75" transform="rotate(65.5 821.6 300.0)"/>
<line x1="831.2" y1="310.0" x2="826.2" y2="314.5" stroke="#2a2a2a" stroke-width="0.9" />
<line x1="826.2" y1="310.0" x2="826.2" y2="424.6" stroke="#555" stroke-width="1.0" />
<text x="841.7" y="283.0" font-size="7.0" font-style="italic" fill="#333" text-anchor="middle" textLength="3.3" lengthAdjust="spacingAndGlyphs" stroke="#333" stroke-width="0.22" transform="translate(841.7 283.0) skewX(-6) translate(-841.7 -283.0)">В</text>
<text x="841.7" y="291.1" font-size="7.0" font-style="italic" fill="#333" text-anchor="middle" textLength="11.9" lengthAdjust="spacingAndGlyphs" stroke="#333" stroke-width="0.22" transform="translate(841.7 291.1) skewX(-6) translate(-841.7 -291.1)">QF11</text>
<text x="841.7" y="299.2" font-size="7.0" font-style="italic" fill="#333" text-anchor="middle" textLength="18.9" lengthAdjust="spacingAndGlyphs" stroke="#333" stroke-width="0.22" transform="translate(841.7 299.2) skewX(-6) translate(-841.7 -299.2)">ВА47-29</text>
<text x="841.7" y="307.3" font-size="7.0" font-style="italic" fill="#333" text-anchor="middle" textLength="17.4" lengthAdjust="spacingAndGlyphs" stroke="#333" stroke-width="0.22" transform="translate(841.7 307.3) skewX(-6) translate(-841.7 -307.3)">1п. В6А</text>
<text x="821.7" y="376.7" font-size="5.8" font-style="italic" fill="#333" text-anchor="middle" textLength="34.6" lengthAdjust="spacingAndGlyphs" stroke="#333" stroke-width="0.22" transform="rotate(-90 821.7 374.6) translate(821.7 376.7) skewX(-6) translate(-821.7 -376.7)">ВВГнг-LS 3х1,5</text>
<text x="830.8" y="376.4" font-size="5.2" font-style="italic" fill="#666" text-anchor="middle" textLength="18.2" lengthAdjust="spacingAndGlyphs" stroke="#666" stroke-width="0.22" transform="rotate(-90 830.8 374.5) translate(830.8 376.4) skewX(-6) translate(-830.8 -376.4)">Lх___м</text>
<circle cx="826.2" cy="428.4" r="3.1" fill="#fff" stroke="#f3ef3a" stroke-width="1.7"/>
<circle cx="826.2" cy="428.4" r="1.5" fill="#ee0000"/>
<circle cx="865.8" cy="261.1" r="1.7" fill="#111" stroke="none" stroke-width="0"/>
<circle cx="868.3" cy="264.6" r="1.2" fill="#111" stroke="none" stroke-width="0"/>
<circle cx="870.8" cy="268.0" r="1.2" fill="#111" stroke="none" stroke-width="0"/>
<line x1="865.8" y1="261.1" x2="865.8" y2="292.2" stroke="#2a2a2a" stroke-width="1.0" />
<line x1="863.8" y1="284.7" x2="866.7" y2="283.4" stroke="#222" stroke-width="1.3" />
<line x1="868.3" y1="264.6" x2="868.3" y2="310.0" stroke="#666" stroke-width="0.8" />
<line x1="870.8" y1="268.0" x2="870.8" y2="310.0" stroke="#2a2a2a" stroke-width="0.9" />
<line x1="858.2" y1="293.3" x2="865.8" y2="310.0" stroke="#2a2a2a" stroke-width="1.0" />
<rect x="858.6" y="298.4" width="5.4" height="3.2" fill="#fff" stroke="#2a2a2a" stroke-width="0.75" transform="rotate(65.5 861.3 300.0)"/>
<line x1="870.8" y1="310.0" x2="865.8" y2="314.5" stroke="#2a2a2a" stroke-width="0.9" />
<line x1="865.8" y1="310.0" x2="865.8" y2="424.6" stroke="#555" stroke-width="1.0" />
<text x="881.3" y="283.0" font-size="7.0" font-style="italic" fill="#333" text-anchor="middle" textLength="3.3" lengthAdjust="spacingAndGlyphs" stroke="#333" stroke-width="0.22" transform="translate(881.3 283.0) skewX(-6) translate(-881.3 -283.0)">В</text>
<text x="881.3" y="291.1" font-size="7.0" font-style="italic" fill="#333" text-anchor="middle" textLength="12.3" lengthAdjust="spacingAndGlyphs" stroke="#333" stroke-width="0.22" transform="translate(881.3 291.1) skewX(-6) translate(-881.3 -291.1)">QF12</text>
<text x="881.3" y="299.2" font-size="7.0" font-style="italic" fill="#333" text-anchor="middle" textLength="18.9" lengthAdjust="spacingAndGlyphs" stroke="#333" stroke-width="0.22" transform="translate(881.3 299.2) skewX(-6) translate(-881.3 -299.2)">ВА47-29</text>
<text x="881.3" y="307.3" font-size="7.0" font-style="italic" fill="#333" text-anchor="middle" textLength="17.4" lengthAdjust="spacingAndGlyphs" stroke="#333" stroke-width="0.22" transform="translate(881.3 307.3) skewX(-6) translate(-881.3 -307.3)">1п. В6А</text>
<text x="861.3" y="376.7" font-size="5.8" font-style="italic" fill="#333" text-anchor="middle" textLength="34.6" lengthAdjust="spacingAndGlyphs" stroke="#333" stroke-width="0.22" transform="rotate(-90 861.3 374.6) translate(861.3 376.7) skewX(-6) translate(-861.3 -376.7)">ВВГнг-LS 3х1,5</text>
<text x="870.4" y="376.4" font-size="5.2" font-style="italic" fill="#666" text-anchor="middle" textLength="18.2" lengthAdjust="spacingAndGlyphs" stroke="#666" stroke-width="0.22" transform="rotate(-90 870.4 374.5) translate(870.4 376.4) skewX(-6) translate(-870.4 -376.4)">Lх___м</text>
<circle cx="865.8" cy="428.4" r="3.1" fill="#fff" stroke="#f3ef3a" stroke-width="1.7"/>
<circle cx="865.8" cy="428.4" r="1.5" fill="#ee0000"/>
<circle cx="905.5" cy="261.1" r="1.7" fill="#111" stroke="none" stroke-width="0"/>
<circle cx="908.0" cy="264.6" r="1.2" fill="#111" stroke="none" stroke-width="0"/>
<circle cx="910.5" cy="268.0" r="1.2" fill="#111" stroke="none" stroke-width="0"/>
<line x1="905.5" y1="261.1" x2="905.5" y2="292.2" stroke="#2a2a2a" stroke-width="1.0" />
<line x1="903.5" y1="284.7" x2="906.4" y2="283.4" stroke="#222" stroke-width="1.3" />
<line x1="908.0" y1="264.6" x2="908.0" y2="310.0" stroke="#666" stroke-width="0.8" />
<line x1="910.5" y1="268.0" x2="910.5" y2="310.0" stroke="#2a2a2a" stroke-width="0.9" />
<line x1="897.9" y1="293.3" x2="905.5" y2="310.0" stroke="#2a2a2a" stroke-width="1.0" />
<rect x="898.2" y="298.4" width="5.4" height="3.2" fill="#fff" stroke="#2a2a2a" stroke-width="0.75" transform="rotate(65.5 900.9 300.0)"/>
<line x1="910.5" y1="310.0" x2="905.5" y2="314.5" stroke="#2a2a2a" stroke-width="0.9" />
<line x1="905.5" y1="310.0" x2="905.5" y2="424.6" stroke="#555" stroke-width="1.0" />
<text x="921.0" y="283.0" font-size="7.0" font-style="italic" fill="#333" text-anchor="middle" textLength="3.3" lengthAdjust="spacingAndGlyphs" stroke="#333" stroke-width="0.22" transform="translate(921.0 283.0) skewX(-6) translate(-921.0 -283.0)">В</text>
<text x="921.0" y="291.1" font-size="7.0" font-style="italic" fill="#333" text-anchor="middle" textLength="12.3" lengthAdjust="spacingAndGlyphs" stroke="#333" stroke-width="0.22" transform="translate(921.0 291.1) skewX(-6) translate(-921.0 -291.1)">QF13</text>
<text x="921.0" y="299.2" font-size="7.0" font-style="italic" fill="#333" text-anchor="middle" textLength="18.9" lengthAdjust="spacingAndGlyphs" stroke="#333" stroke-width="0.22" transform="translate(921.0 299.2) skewX(-6) translate(-921.0 -299.2)">ВА47-29</text>
<text x="921.0" y="307.3" font-size="7.0" font-style="italic" fill="#333" text-anchor="middle" textLength="17.4" lengthAdjust="spacingAndGlyphs" stroke="#333" stroke-width="0.22" transform="translate(921.0 307.3) skewX(-6) translate(-921.0 -307.3)">1п. В6А</text>
<text x="901.0" y="376.7" font-size="5.8" font-style="italic" fill="#333" text-anchor="middle" textLength="34.6" lengthAdjust="spacingAndGlyphs" stroke="#333" stroke-width="0.22" transform="rotate(-90 901.0 374.6) translate(901.0 376.7) skewX(-6) translate(-901.0 -376.7)">ВВГнг-LS 3х1,5</text>
<text x="910.1" y="376.4" font-size="5.2" font-style="italic" fill="#666" text-anchor="middle" textLength="18.2" lengthAdjust="spacingAndGlyphs" stroke="#666" stroke-width="0.22" transform="rotate(-90 910.1 374.5) translate(910.1 376.4) skewX(-6) translate(-910.1 -376.4)">Lх___м</text>
<circle cx="905.5" cy="428.4" r="3.1" fill="#fff" stroke="#f3ef3a" stroke-width="1.7"/>
<circle cx="905.5" cy="428.4" r="1.5" fill="#ee0000"/>
<line x1="172.6" y1="442.6" x2="926.0" y2="442.6" stroke="#2a2a2a" stroke-width="1.1" />
<line x1="172.6" y1="453.3" x2="926.0" y2="453.3" stroke="#2a2a2a" stroke-width="1.1" />
<line x1="172.6" y1="464.8" x2="926.0" y2="464.8" stroke="#2a2a2a" stroke-width="1.1" />
<line x1="172.6" y1="474.9" x2="926.0" y2="474.9" stroke="#2a2a2a" stroke-width="1.1" />
<line x1="172.6" y1="516.6" x2="926.0" y2="516.6" stroke="#2a2a2a" stroke-width="1.1" />
<line x1="172.6" y1="442.6" x2="172.6" y2="532.2" stroke="#2a2a2a" stroke-width="1.2" />
<line x1="212.2" y1="442.6" x2="212.2" y2="532.2" stroke="#2a2a2a" stroke-width="1.2" />
<line x1="251.9" y1="442.6" x2="251.9" y2="532.2" stroke="#2a2a2a" stroke-width="1.2" />
<line x1="291.5" y1="442.6" x2="291.5" y2="532.2" stroke="#2a2a2a" stroke-width="1.2" />
<line x1="331.2" y1="442.6" x2="331.2" y2="532.2" stroke="#2a2a2a" stroke-width="1.2" />
<line x1="370.9" y1="442.6" x2="370.9" y2="532.2" stroke="#2a2a2a" stroke-width="1.2" />
<line x1="410.5" y1="442.6" x2="410.5" y2="532.2" stroke="#2a2a2a" stroke-width="1.2" />
<line x1="450.1" y1="442.6" x2="450.1" y2="532.2" stroke="#2a2a2a" stroke-width="1.2" />
<line x1="489.8" y1="442.6" x2="489.8" y2="532.2" stroke="#2a2a2a" stroke-width="1.2" />
<line x1="529.4" y1="442.6" x2="529.4" y2="532.2" stroke="#2a2a2a" stroke-width="1.2" />
<line x1="569.1" y1="442.6" x2="569.1" y2="532.2" stroke="#2a2a2a" stroke-width="1.2" />
<line x1="608.8" y1="442.6" x2="608.8" y2="532.2" stroke="#2a2a2a" stroke-width="1.2" />
<line x1="648.4" y1="442.6" x2="648.4" y2="532.2" stroke="#2a2a2a" stroke-width="1.2" />
<line x1="688.0" y1="442.6" x2="688.0" y2="532.2" stroke="#2a2a2a" stroke-width="1.2" />
<line x1="727.7" y1="442.6" x2="727.7" y2="532.2" stroke="#2a2a2a" stroke-width="1.2" />
<line x1="767.4" y1="442.6" x2="767.4" y2="532.2" stroke="#2a2a2a" stroke-width="1.2" />
<line x1="807.0" y1="442.6" x2="807.0" y2="532.2" stroke="#2a2a2a" stroke-width="1.2" />
<line x1="846.6" y1="442.6" x2="846.6" y2="532.2" stroke="#2a2a2a" stroke-width="1.2" />
<line x1="886.3" y1="442.6" x2="886.3" y2="532.2" stroke="#2a2a2a" stroke-width="1.2" />
<line x1="926.0" y1="442.6" x2="926.0" y2="532.2" stroke="#2a2a2a" stroke-width="1.2" />
<line x1="172.6" y1="464.8" x2="212.2" y2="453.3" stroke="#2a2a2a" stroke-width="0.9" />
<text x="192.4" y="449.9" font-size="6.0" font-style="italic" fill="#333" text-anchor="middle" textLength="7.0" lengthAdjust="spacingAndGlyphs" stroke="#333" stroke-width="0.22" transform="translate(192.4 449.9) skewX(-6) translate(-192.4 -449.9)">Гр.1</text>
<text x="174.6" y="460.3" font-size="7.6" font-style="italic" fill="#333" text-anchor="start" textLength="11.4" lengthAdjust="spacingAndGlyphs" stroke="#333" stroke-width="0.22" transform="translate(174.6 460.3) skewX(-6) translate(-174.6 -460.3)">2,700</text>
<text x="210.2" y="463.8" font-size="7.6" font-style="italic" fill="#333" text-anchor="end" textLength="11.4" lengthAdjust="spacingAndGlyphs" stroke="#333" stroke-width="0.22" transform="translate(210.2 463.8) skewX(-6) translate(-210.2 -463.8)">1,755</text>
<text x="192.4" y="472.5" font-size="7.6" font-style="italic" fill="#333" text-anchor="middle" textLength="11.4" lengthAdjust="spacingAndGlyphs" stroke="#333" stroke-width="0.22" transform="translate(192.4 472.5) skewX(-6) translate(-192.4 -472.5)">8,140</text>
<text x="192.4" y="493.5" font-size="6.4" font-style="italic" fill="#333" text-anchor="middle" textLength="27.5" lengthAdjust="spacingAndGlyphs" stroke="#333" stroke-width="0.22" transform="translate(192.4 493.5) skewX(-6) translate(-192.4 -493.5)">Вар. поверх.</text>
<text x="192.4" y="502.5" font-size="6.4" font-style="italic" fill="#333" text-anchor="middle" textLength="36.6" lengthAdjust="spacingAndGlyphs" stroke="#333" stroke-width="0.22" transform="translate(192.4 502.5) skewX(-6) translate(-192.4 -502.5)">(электроплита)</text>
<text x="192.4" y="527.0" font-size="6.4" font-style="italic" fill="#333" text-anchor="middle" textLength="2.6" lengthAdjust="spacingAndGlyphs" stroke="#333" stroke-width="0.22" transform="translate(192.4 527.0) skewX(-6) translate(-192.4 -527.0)">4</text>
<line x1="212.2" y1="464.8" x2="251.9" y2="453.3" stroke="#2a2a2a" stroke-width="0.9" />
<text x="232.1" y="490.0" font-size="6.4" font-style="italic" fill="#333" text-anchor="middle" textLength="23.2" lengthAdjust="spacingAndGlyphs" stroke="#333" stroke-width="0.22" transform="translate(232.1 490.0) skewX(-6) translate(-232.1 -490.0)">На группы</text>
<text x="232.1" y="498.0" font-size="6.4" font-style="italic" fill="#333" text-anchor="middle" textLength="34.1" lengthAdjust="spacingAndGlyphs" stroke="#333" stroke-width="0.22" transform="translate(232.1 498.0) skewX(-6) translate(-232.1 -498.0)">потребителей</text>
<text x="232.1" y="506.0" font-size="6.4" font-style="italic" fill="#333" text-anchor="middle" textLength="16.6" lengthAdjust="spacingAndGlyphs" stroke="#333" stroke-width="0.22" transform="translate(232.1 506.0) skewX(-6) translate(-232.1 -506.0)">фазы А</text>
<line x1="251.9" y1="464.8" x2="291.5" y2="453.3" stroke="#2a2a2a" stroke-width="0.9" />
<text x="271.7" y="449.9" font-size="6.0" font-style="italic" fill="#333" text-anchor="middle" textLength="7.0" lengthAdjust="spacingAndGlyphs" stroke="#333" stroke-width="0.22" transform="translate(271.7 449.9) skewX(-6) translate(-271.7 -449.9)">Гр.2</text>
<text x="253.9" y="460.3" font-size="7.6" font-style="italic" fill="#333" text-anchor="start" textLength="11.4" lengthAdjust="spacingAndGlyphs" stroke="#333" stroke-width="0.22" transform="translate(253.9 460.3) skewX(-6) translate(-253.9 -460.3)">2,000</text>
<text x="289.5" y="463.8" font-size="7.6" font-style="italic" fill="#333" text-anchor="end" textLength="11.4" lengthAdjust="spacingAndGlyphs" stroke="#333" stroke-width="0.22" transform="translate(289.5 463.8) skewX(-6) translate(-289.5 -463.8)">1,300</text>
<text x="271.7" y="472.5" font-size="7.6" font-style="italic" fill="#333" text-anchor="middle" textLength="11.4" lengthAdjust="spacingAndGlyphs" stroke="#333" stroke-width="0.22" transform="translate(271.7 472.5) skewX(-6) translate(-271.7 -472.5)">6,423</text>
<text x="271.7" y="493.5" font-size="6.4" font-style="italic" fill="#333" text-anchor="middle" textLength="34.5" lengthAdjust="spacingAndGlyphs" stroke="#333" stroke-width="0.22" transform="translate(271.7 493.5) skewX(-6) translate(-271.7 -493.5)">Посудомоечная</text>
<text x="271.7" y="502.5" font-size="6.4" font-style="italic" fill="#333" text-anchor="middle" textLength="17.7" lengthAdjust="spacingAndGlyphs" stroke="#333" stroke-width="0.22" transform="translate(271.7 502.5) skewX(-6) translate(-271.7 -502.5)">машина</text>
<text x="271.7" y="527.0" font-size="6.4" font-style="italic" fill="#333" text-anchor="middle" textLength="2.6" lengthAdjust="spacingAndGlyphs" stroke="#333" stroke-width="0.22" transform="translate(271.7 527.0) skewX(-6) translate(-271.7 -527.0)">4</text>
<line x1="291.5" y1="464.8" x2="331.2" y2="453.3" stroke="#2a2a2a" stroke-width="0.9" />
<text x="311.4" y="449.9" font-size="6.0" font-style="italic" fill="#333" text-anchor="middle" textLength="7.0" lengthAdjust="spacingAndGlyphs" stroke="#333" stroke-width="0.22" transform="translate(311.4 449.9) skewX(-6) translate(-311.4 -449.9)">Гр.3</text>
<text x="293.5" y="460.3" font-size="7.6" font-style="italic" fill="#333" text-anchor="start" textLength="11.4" lengthAdjust="spacingAndGlyphs" stroke="#333" stroke-width="0.22" transform="translate(293.5 460.3) skewX(-6) translate(-293.5 -460.3)">2,700</text>
<text x="329.2" y="463.8" font-size="7.6" font-style="italic" fill="#333" text-anchor="end" textLength="11.4" lengthAdjust="spacingAndGlyphs" stroke="#333" stroke-width="0.22" transform="translate(329.2 463.8) skewX(-6) translate(-329.2 -463.8)">1,350</text>
<text x="311.4" y="472.5" font-size="7.6" font-style="italic" fill="#333" text-anchor="middle" textLength="11.4" lengthAdjust="spacingAndGlyphs" stroke="#333" stroke-width="0.22" transform="translate(311.4 472.5) skewX(-6) translate(-311.4 -472.5)">6,818</text>
<text x="311.4" y="490.0" font-size="6.4" font-style="italic" fill="#333" text-anchor="middle" textLength="33.7" lengthAdjust="spacingAndGlyphs" stroke="#333" stroke-width="0.22" transform="translate(311.4 490.0) skewX(-6) translate(-311.4 -490.0)">Духовой шкаф,</text>
<text x="311.4" y="498.0" font-size="6.4" font-style="italic" fill="#333" text-anchor="middle" textLength="34.9" lengthAdjust="spacingAndGlyphs" stroke="#333" stroke-width="0.22" transform="translate(311.4 498.0) skewX(-6) translate(-311.4 -498.0)">микроволновка,</text>
<text x="311.4" y="506.0" font-size="6.4" font-style="italic" fill="#333" text-anchor="middle" textLength="20.5" lengthAdjust="spacingAndGlyphs" stroke="#333" stroke-width="0.22" transform="translate(311.4 506.0) skewX(-6) translate(-311.4 -506.0)">вытяжка</text>
<text x="311.4" y="527.0" font-size="6.4" font-style="italic" fill="#333" text-anchor="middle" textLength="2.6" lengthAdjust="spacingAndGlyphs" stroke="#333" stroke-width="0.22" transform="translate(311.4 527.0) skewX(-6) translate(-311.4 -527.0)">4</text>
<line x1="331.2" y1="464.8" x2="370.8" y2="453.3" stroke="#2a2a2a" stroke-width="0.9" />
<text x="351.0" y="449.9" font-size="6.0" font-style="italic" fill="#333" text-anchor="middle" textLength="7.0" lengthAdjust="spacingAndGlyphs" stroke="#333" stroke-width="0.22" transform="translate(351.0 449.9) skewX(-6) translate(-351.0 -449.9)">Гр.4</text>
<text x="333.2" y="460.3" font-size="7.6" font-style="italic" fill="#333" text-anchor="start" textLength="11.4" lengthAdjust="spacingAndGlyphs" stroke="#333" stroke-width="0.22" transform="translate(333.2 460.3) skewX(-6) translate(-333.2 -460.3)">2,400</text>
<text x="368.8" y="463.8" font-size="7.6" font-style="italic" fill="#333" text-anchor="end" textLength="11.4" lengthAdjust="spacingAndGlyphs" stroke="#333" stroke-width="0.22" transform="translate(368.8 463.8) skewX(-6) translate(-368.8 -463.8)">1,560</text>
<text x="351.0" y="472.5" font-size="7.6" font-style="italic" fill="#333" text-anchor="middle" textLength="11.4" lengthAdjust="spacingAndGlyphs" stroke="#333" stroke-width="0.22" transform="translate(351.0 472.5) skewX(-6) translate(-351.0 -472.5)">7,454</text>
<text x="351.0" y="493.5" font-size="6.4" font-style="italic" fill="#333" text-anchor="middle" textLength="19.2" lengthAdjust="spacingAndGlyphs" stroke="#333" stroke-width="0.22" transform="translate(351.0 493.5) skewX(-6) translate(-351.0 -493.5)">Розетки</text>
<text x="351.0" y="502.5" font-size="6.4" font-style="italic" fill="#333" text-anchor="middle" textLength="35.3" lengthAdjust="spacingAndGlyphs" stroke="#333" stroke-width="0.22" transform="translate(351.0 502.5) skewX(-6) translate(-351.0 -502.5)">гостиная-кухня</text>
<text x="351.0" y="527.0" font-size="6.4" font-style="italic" fill="#333" text-anchor="middle" textLength="2.6" lengthAdjust="spacingAndGlyphs" stroke="#333" stroke-width="0.22" transform="translate(351.0 527.0) skewX(-6) translate(-351.0 -527.0)">4</text>
<line x1="370.9" y1="464.8" x2="410.5" y2="453.3" stroke="#2a2a2a" stroke-width="0.9" />
<text x="390.7" y="490.0" font-size="6.4" font-style="italic" fill="#333" text-anchor="middle" textLength="23.2" lengthAdjust="spacingAndGlyphs" stroke="#333" stroke-width="0.22" transform="translate(390.7 490.0) skewX(-6) translate(-390.7 -490.0)">На группы</text>
<text x="390.7" y="498.0" font-size="6.4" font-style="italic" fill="#333" text-anchor="middle" textLength="34.1" lengthAdjust="spacingAndGlyphs" stroke="#333" stroke-width="0.22" transform="translate(390.7 498.0) skewX(-6) translate(-390.7 -498.0)">потребителей</text>
<text x="390.7" y="506.0" font-size="6.4" font-style="italic" fill="#333" text-anchor="middle" textLength="16.6" lengthAdjust="spacingAndGlyphs" stroke="#333" stroke-width="0.22" transform="translate(390.7 506.0) skewX(-6) translate(-390.7 -506.0)">фазы В</text>
<line x1="410.5" y1="464.8" x2="450.1" y2="453.3" stroke="#2a2a2a" stroke-width="0.9" />
<text x="430.3" y="449.9" font-size="6.0" font-style="italic" fill="#333" text-anchor="middle" textLength="7.0" lengthAdjust="spacingAndGlyphs" stroke="#333" stroke-width="0.22" transform="translate(430.3 449.9) skewX(-6) translate(-430.3 -449.9)">Гр.5</text>
<text x="412.5" y="460.3" font-size="7.6" font-style="italic" fill="#333" text-anchor="start" textLength="11.4" lengthAdjust="spacingAndGlyphs" stroke="#333" stroke-width="0.22" transform="translate(412.5 460.3) skewX(-6) translate(-412.5 -460.3)">1,000</text>
<text x="448.1" y="463.8" font-size="7.6" font-style="italic" fill="#333" text-anchor="end" textLength="11.4" lengthAdjust="spacingAndGlyphs" stroke="#333" stroke-width="0.22" transform="translate(448.1 463.8) skewX(-6) translate(-448.1 -463.8)">0,650</text>
<text x="430.3" y="472.5" font-size="7.6" font-style="italic" fill="#333" text-anchor="middle" textLength="11.1" lengthAdjust="spacingAndGlyphs" stroke="#333" stroke-width="0.22" transform="translate(430.3 472.5) skewX(-6) translate(-430.3 -472.5)">3,110</text>
<text x="430.3" y="486.6" font-size="6.4" font-style="italic" fill="#333" text-anchor="middle" textLength="19.2" lengthAdjust="spacingAndGlyphs" stroke="#333" stroke-width="0.22" transform="translate(430.3 486.6) skewX(-6) translate(-430.3 -486.6)">Розетки</text>
<text x="430.3" y="494.2" font-size="6.4" font-style="italic" fill="#333" text-anchor="middle" textLength="38.1" lengthAdjust="spacingAndGlyphs" stroke="#333" stroke-width="0.22" transform="translate(430.3 494.2) skewX(-6) translate(-430.3 -494.2)">холл, гардеробная,</text>
<text x="430.3" y="501.8" font-size="6.4" font-style="italic" fill="#333" text-anchor="middle" textLength="38.1" lengthAdjust="spacingAndGlyphs" stroke="#333" stroke-width="0.22" transform="translate(430.3 501.8) skewX(-6) translate(-430.3 -501.8)">коридор, гостевая</text>
<text x="430.3" y="509.4" font-size="6.4" font-style="italic" fill="#333" text-anchor="middle" textLength="17.9" lengthAdjust="spacingAndGlyphs" stroke="#333" stroke-width="0.22" transform="translate(430.3 509.4) skewX(-6) translate(-430.3 -509.4)">спальня</text>
<text x="430.3" y="527.0" font-size="6.4" font-style="italic" fill="#333" text-anchor="middle" textLength="14.1" lengthAdjust="spacingAndGlyphs" stroke="#333" stroke-width="0.22" transform="translate(430.3 527.0) skewX(-6) translate(-430.3 -527.0)">1,2,3,5</text>
<line x1="450.1" y1="464.8" x2="489.8" y2="453.3" stroke="#2a2a2a" stroke-width="0.9" />
<text x="470.0" y="449.9" font-size="6.0" font-style="italic" fill="#333" text-anchor="middle" textLength="7.0" lengthAdjust="spacingAndGlyphs" stroke="#333" stroke-width="0.22" transform="translate(470.0 449.9) skewX(-6) translate(-470.0 -449.9)">Гр.6</text>
<text x="452.1" y="460.3" font-size="7.6" font-style="italic" fill="#333" text-anchor="start" textLength="11.4" lengthAdjust="spacingAndGlyphs" stroke="#333" stroke-width="0.22" transform="translate(452.1 460.3) skewX(-6) translate(-452.1 -460.3)">2,300</text>
<text x="487.8" y="463.8" font-size="7.6" font-style="italic" fill="#333" text-anchor="end" textLength="11.4" lengthAdjust="spacingAndGlyphs" stroke="#333" stroke-width="0.22" transform="translate(487.8 463.8) skewX(-6) translate(-487.8 -463.8)">1,495</text>
<text x="470.0" y="472.5" font-size="7.6" font-style="italic" fill="#333" text-anchor="middle" textLength="11.4" lengthAdjust="spacingAndGlyphs" stroke="#333" stroke-width="0.22" transform="translate(470.0 472.5) skewX(-6) translate(-470.0 -472.5)">7,307</text>
<text x="470.0" y="490.0" font-size="6.4" font-style="italic" fill="#333" text-anchor="middle" textLength="19.2" lengthAdjust="spacingAndGlyphs" stroke="#333" stroke-width="0.22" transform="translate(470.0 490.0) skewX(-6) translate(-470.0 -490.0)">Розетки</text>
<text x="470.0" y="498.0" font-size="6.4" font-style="italic" fill="#333" text-anchor="middle" textLength="17.9" lengthAdjust="spacingAndGlyphs" stroke="#333" stroke-width="0.22" transform="translate(470.0 498.0) skewX(-6) translate(-470.0 -498.0)">спальня</text>
<text x="470.0" y="506.0" font-size="6.4" font-style="italic" fill="#333" text-anchor="middle" textLength="18.9" lengthAdjust="spacingAndGlyphs" stroke="#333" stroke-width="0.22" transform="translate(470.0 506.0) skewX(-6) translate(-470.0 -506.0)">детская</text>
<text x="470.0" y="527.0" font-size="6.4" font-style="italic" fill="#333" text-anchor="middle" textLength="2.6" lengthAdjust="spacingAndGlyphs" stroke="#333" stroke-width="0.22" transform="translate(470.0 527.0) skewX(-6) translate(-470.0 -527.0)">9</text>
<line x1="489.8" y1="464.8" x2="529.4" y2="453.3" stroke="#2a2a2a" stroke-width="0.9" />
<text x="509.6" y="449.9" font-size="6.0" font-style="italic" fill="#333" text-anchor="middle" textLength="7.0" lengthAdjust="spacingAndGlyphs" stroke="#333" stroke-width="0.22" transform="translate(509.6 449.9) skewX(-6) translate(-509.6 -449.9)">Гр.7</text>
<text x="491.8" y="460.3" font-size="7.6" font-style="italic" fill="#333" text-anchor="start" textLength="11.4" lengthAdjust="spacingAndGlyphs" stroke="#333" stroke-width="0.22" transform="translate(491.8 460.3) skewX(-6) translate(-491.8 -460.3)">2,300</text>
<text x="527.4" y="463.8" font-size="7.6" font-style="italic" fill="#333" text-anchor="end" textLength="11.4" lengthAdjust="spacingAndGlyphs" stroke="#333" stroke-width="0.22" transform="translate(527.4 463.8) skewX(-6) translate(-527.4 -463.8)">1,495</text>
<text x="509.6" y="472.5" font-size="7.6" font-style="italic" fill="#333" text-anchor="middle" textLength="11.4" lengthAdjust="spacingAndGlyphs" stroke="#333" stroke-width="0.22" transform="translate(509.6 472.5) skewX(-6) translate(-509.6 -472.5)">7,307</text>
<text x="509.6" y="486.6" font-size="6.4" font-style="italic" fill="#333" text-anchor="middle" textLength="19.2" lengthAdjust="spacingAndGlyphs" stroke="#333" stroke-width="0.22" transform="translate(509.6 486.6) skewX(-6) translate(-509.6 -486.6)">Розетки</text>
<text x="509.6" y="494.2" font-size="6.4" font-style="italic" fill="#333" text-anchor="middle" textLength="17.9" lengthAdjust="spacingAndGlyphs" stroke="#333" stroke-width="0.22" transform="translate(509.6 494.2) skewX(-6) translate(-509.6 -494.2)">спальня</text>
<text x="509.6" y="501.8" font-size="6.4" font-style="italic" fill="#333" text-anchor="middle" textLength="26.2" lengthAdjust="spacingAndGlyphs" stroke="#333" stroke-width="0.22" transform="translate(509.6 501.8) skewX(-6) translate(-509.6 -501.8)">родителей,</text>
<text x="509.6" y="509.4" font-size="6.4" font-style="italic" fill="#333" text-anchor="middle" textLength="15.4" lengthAdjust="spacingAndGlyphs" stroke="#333" stroke-width="0.22" transform="translate(509.6 509.4) skewX(-6) translate(-509.6 -509.4)">балкон</text>
<text x="509.6" y="527.0" font-size="6.4" font-style="italic" fill="#333" text-anchor="middle" textLength="9.0" lengthAdjust="spacingAndGlyphs" stroke="#333" stroke-width="0.22" transform="translate(509.6 527.0) skewX(-6) translate(-509.6 -527.0)">8,10</text>
<line x1="529.4" y1="464.8" x2="569.1" y2="453.3" stroke="#2a2a2a" stroke-width="0.9" />
<text x="549.3" y="490.0" font-size="6.4" font-style="italic" fill="#333" text-anchor="middle" textLength="23.2" lengthAdjust="spacingAndGlyphs" stroke="#333" stroke-width="0.22" transform="translate(549.3 490.0) skewX(-6) translate(-549.3 -490.0)">На группы</text>
<text x="549.3" y="498.0" font-size="6.4" font-style="italic" fill="#333" text-anchor="middle" textLength="34.1" lengthAdjust="spacingAndGlyphs" stroke="#333" stroke-width="0.22" transform="translate(549.3 498.0) skewX(-6) translate(-549.3 -498.0)">потребителей</text>
<text x="549.3" y="506.0" font-size="6.4" font-style="italic" fill="#333" text-anchor="middle" textLength="16.9" lengthAdjust="spacingAndGlyphs" stroke="#333" stroke-width="0.22" transform="translate(549.3 506.0) skewX(-6) translate(-549.3 -506.0)">фазы С</text>
<line x1="569.1" y1="464.8" x2="608.8" y2="453.3" stroke="#2a2a2a" stroke-width="0.9" />
<text x="588.9" y="449.9" font-size="6.0" font-style="italic" fill="#333" text-anchor="middle" textLength="7.0" lengthAdjust="spacingAndGlyphs" stroke="#333" stroke-width="0.22" transform="translate(588.9 449.9) skewX(-6) translate(-588.9 -449.9)">Гр.8</text>
<text x="571.1" y="460.3" font-size="7.6" font-style="italic" fill="#333" text-anchor="start" textLength="11.4" lengthAdjust="spacingAndGlyphs" stroke="#333" stroke-width="0.22" transform="translate(571.1 460.3) skewX(-6) translate(-571.1 -460.3)">3,300</text>
<text x="606.8" y="463.8" font-size="7.6" font-style="italic" fill="#333" text-anchor="end" textLength="11.4" lengthAdjust="spacingAndGlyphs" stroke="#333" stroke-width="0.22" transform="translate(606.8 463.8) skewX(-6) translate(-606.8 -463.8)">2,145</text>
<text x="588.9" y="472.5" font-size="7.6" font-style="italic" fill="#333" text-anchor="middle" textLength="13.9" lengthAdjust="spacingAndGlyphs" stroke="#333" stroke-width="0.22" transform="translate(588.9 472.5) skewX(-6) translate(-588.9 -472.5)">10,833</text>
<text x="588.9" y="486.6" font-size="6.4" font-style="italic" fill="#333" text-anchor="middle" textLength="19.2" lengthAdjust="spacingAndGlyphs" stroke="#333" stroke-width="0.22" transform="translate(588.9 486.6) skewX(-6) translate(-588.9 -486.6)">Розетки</text>
<text x="588.9" y="494.2" font-size="6.4" font-style="italic" fill="#333" text-anchor="middle" textLength="18.6" lengthAdjust="spacingAndGlyphs" stroke="#333" stroke-width="0.22" transform="translate(588.9 494.2) skewX(-6) translate(-588.9 -494.2)">санузел,</text>
<text x="588.9" y="501.8" font-size="6.4" font-style="italic" fill="#333" text-anchor="middle" textLength="38.1" lengthAdjust="spacingAndGlyphs" stroke="#333" stroke-width="0.22" transform="translate(588.9 501.8) skewX(-6) translate(-588.9 -501.8)">стиральная машина,</text>
<text x="588.9" y="509.4" font-size="6.4" font-style="italic" fill="#333" text-anchor="middle" textLength="38.1" lengthAdjust="spacingAndGlyphs" stroke="#333" stroke-width="0.22" transform="translate(588.9 509.4) skewX(-6) translate(-588.9 -509.4)">полотенцесушитель</text>
<text x="588.9" y="527.0" font-size="6.4" font-style="italic" fill="#333" text-anchor="middle" textLength="6.4" lengthAdjust="spacingAndGlyphs" stroke="#333" stroke-width="0.22" transform="translate(588.9 527.0) skewX(-6) translate(-588.9 -527.0)">6,7</text>
<line x1="608.8" y1="464.8" x2="648.4" y2="453.3" stroke="#2a2a2a" stroke-width="0.9" />
<text x="628.6" y="449.9" font-size="6.0" font-style="italic" fill="#333" text-anchor="middle" textLength="7.0" lengthAdjust="spacingAndGlyphs" stroke="#333" stroke-width="0.22" transform="translate(628.6 449.9) skewX(-6) translate(-628.6 -449.9)">Гр.9</text>
<text x="610.8" y="460.3" font-size="7.6" font-style="italic" fill="#333" text-anchor="start" textLength="11.4" lengthAdjust="spacingAndGlyphs" stroke="#333" stroke-width="0.22" transform="translate(610.8 460.3) skewX(-6) translate(-610.8 -460.3)">2,300</text>
<text x="646.4" y="463.8" font-size="7.6" font-style="italic" fill="#333" text-anchor="end" textLength="11.4" lengthAdjust="spacingAndGlyphs" stroke="#333" stroke-width="0.22" transform="translate(646.4 463.8) skewX(-6) translate(-646.4 -463.8)">1,495</text>
<text x="628.6" y="472.5" font-size="7.6" font-style="italic" fill="#333" text-anchor="middle" textLength="11.4" lengthAdjust="spacingAndGlyphs" stroke="#333" stroke-width="0.22" transform="translate(628.6 472.5) skewX(-6) translate(-628.6 -472.5)">6,795</text>
<text x="628.6" y="490.0" font-size="6.4" font-style="italic" fill="#333" text-anchor="middle" textLength="19.2" lengthAdjust="spacingAndGlyphs" stroke="#333" stroke-width="0.22" transform="translate(628.6 490.0) skewX(-6) translate(-628.6 -490.0)">Розетка</text>
<text x="628.6" y="498.0" font-size="6.4" font-style="italic" fill="#333" text-anchor="middle" textLength="15.9" lengthAdjust="spacingAndGlyphs" stroke="#333" stroke-width="0.22" transform="translate(628.6 498.0) skewX(-6) translate(-628.6 -498.0)">бойлер</text>
<text x="628.6" y="506.0" font-size="6.4" font-style="italic" fill="#333" text-anchor="middle" textLength="21.2" lengthAdjust="spacingAndGlyphs" stroke="#333" stroke-width="0.22" transform="translate(628.6 506.0) skewX(-6) translate(-628.6 -506.0)">в санузле</text>
<text x="628.6" y="527.0" font-size="6.4" font-style="italic" fill="#333" text-anchor="middle" textLength="2.6" lengthAdjust="spacingAndGlyphs" stroke="#333" stroke-width="0.22" transform="translate(628.6 527.0) skewX(-6) translate(-628.6 -527.0)">7</text>
<line x1="648.4" y1="464.8" x2="688.0" y2="453.3" stroke="#2a2a2a" stroke-width="0.9" />
<text x="668.2" y="449.9" font-size="6.0" font-style="italic" fill="#333" text-anchor="middle" textLength="9.1" lengthAdjust="spacingAndGlyphs" stroke="#333" stroke-width="0.22" transform="translate(668.2 449.9) skewX(-6) translate(-668.2 -449.9)">Гр.10</text>
<text x="650.4" y="460.3" font-size="7.6" font-style="italic" fill="#333" text-anchor="start" textLength="11.4" lengthAdjust="spacingAndGlyphs" stroke="#333" stroke-width="0.22" transform="translate(650.4 460.3) skewX(-6) translate(-650.4 -460.3)">0,070</text>
<text x="686.0" y="463.8" font-size="7.6" font-style="italic" fill="#333" text-anchor="end" textLength="11.4" lengthAdjust="spacingAndGlyphs" stroke="#333" stroke-width="0.22" transform="translate(686.0 463.8) skewX(-6) translate(-686.0 -463.8)">0,060</text>
<text x="668.2" y="472.5" font-size="7.6" font-style="italic" fill="#333" text-anchor="middle" textLength="11.4" lengthAdjust="spacingAndGlyphs" stroke="#333" stroke-width="0.22" transform="translate(668.2 472.5) skewX(-6) translate(-668.2 -472.5)">0,273</text>
<text x="668.2" y="493.5" font-size="6.4" font-style="italic" fill="#333" text-anchor="middle" textLength="25.6" lengthAdjust="spacingAndGlyphs" stroke="#333" stroke-width="0.22" transform="translate(668.2 493.5) skewX(-6) translate(-668.2 -493.5)">Освещение</text>
<text x="668.2" y="502.5" font-size="6.4" font-style="italic" fill="#333" text-anchor="middle" textLength="17.3" lengthAdjust="spacingAndGlyphs" stroke="#333" stroke-width="0.22" transform="translate(668.2 502.5) skewX(-6) translate(-668.2 -502.5)">санузел</text>
<text x="668.2" y="527.0" font-size="6.4" font-style="italic" fill="#333" text-anchor="middle" textLength="2.6" lengthAdjust="spacingAndGlyphs" stroke="#333" stroke-width="0.22" transform="translate(668.2 527.0) skewX(-6) translate(-668.2 -527.0)">6</text>
<line x1="688.0" y1="464.8" x2="727.7" y2="453.3" stroke="#2a2a2a" stroke-width="0.9" />
<text x="707.9" y="449.9" font-size="6.0" font-style="italic" fill="#333" text-anchor="middle" textLength="8.8" lengthAdjust="spacingAndGlyphs" stroke="#333" stroke-width="0.22" transform="translate(707.9 449.9) skewX(-6) translate(-707.9 -449.9)">Гр.11</text>
<text x="690.0" y="460.3" font-size="7.6" font-style="italic" fill="#333" text-anchor="start" textLength="11.4" lengthAdjust="spacingAndGlyphs" stroke="#333" stroke-width="0.22" transform="translate(690.0 460.3) skewX(-6) translate(-690.0 -460.3)">0,070</text>
<text x="725.7" y="463.8" font-size="7.6" font-style="italic" fill="#333" text-anchor="end" textLength="11.4" lengthAdjust="spacingAndGlyphs" stroke="#333" stroke-width="0.22" transform="translate(725.7 463.8) skewX(-6) translate(-725.7 -463.8)">0,030</text>
<text x="707.9" y="472.5" font-size="7.6" font-style="italic" fill="#333" text-anchor="middle" textLength="11.4" lengthAdjust="spacingAndGlyphs" stroke="#333" stroke-width="0.22" transform="translate(707.9 472.5) skewX(-6) translate(-707.9 -472.5)">0,318</text>
<text x="707.9" y="493.5" font-size="6.4" font-style="italic" fill="#333" text-anchor="middle" textLength="25.6" lengthAdjust="spacingAndGlyphs" stroke="#333" stroke-width="0.22" transform="translate(707.9 493.5) skewX(-6) translate(-707.9 -493.5)">Освещение</text>
<text x="707.9" y="502.5" font-size="6.4" font-style="italic" fill="#333" text-anchor="middle" textLength="17.3" lengthAdjust="spacingAndGlyphs" stroke="#333" stroke-width="0.22" transform="translate(707.9 502.5) skewX(-6) translate(-707.9 -502.5)">санузел</text>
<text x="707.9" y="527.0" font-size="6.4" font-style="italic" fill="#333" text-anchor="middle" textLength="2.6" lengthAdjust="spacingAndGlyphs" stroke="#333" stroke-width="0.22" transform="translate(707.9 527.0) skewX(-6) translate(-707.9 -527.0)">7</text>
<line x1="727.7" y1="464.8" x2="767.4" y2="453.3" stroke="#2a2a2a" stroke-width="0.9" />
<text x="747.5" y="449.9" font-size="6.0" font-style="italic" fill="#333" text-anchor="middle" textLength="9.1" lengthAdjust="spacingAndGlyphs" stroke="#333" stroke-width="0.22" transform="translate(747.5 449.9) skewX(-6) translate(-747.5 -449.9)">Гр.12</text>
<text x="729.7" y="460.3" font-size="7.6" font-style="italic" fill="#333" text-anchor="start" textLength="11.4" lengthAdjust="spacingAndGlyphs" stroke="#333" stroke-width="0.22" transform="translate(729.7 460.3) skewX(-6) translate(-729.7 -460.3)">0,180</text>
<text x="765.4" y="463.8" font-size="7.6" font-style="italic" fill="#333" text-anchor="end" textLength="11.1" lengthAdjust="spacingAndGlyphs" stroke="#333" stroke-width="0.22" transform="translate(765.4 463.8) skewX(-6) translate(-765.4 -463.8)">0,117</text>
<text x="747.5" y="472.5" font-size="7.6" font-style="italic" fill="#333" text-anchor="middle" textLength="11.4" lengthAdjust="spacingAndGlyphs" stroke="#333" stroke-width="0.22" transform="translate(747.5 472.5) skewX(-6) translate(-747.5 -472.5)">0,532</text>
<text x="747.5" y="486.6" font-size="6.4" font-style="italic" fill="#333" text-anchor="middle" textLength="25.6" lengthAdjust="spacingAndGlyphs" stroke="#333" stroke-width="0.22" transform="translate(747.5 486.6) skewX(-6) translate(-747.5 -486.6)">Освещение</text>
<text x="747.5" y="494.2" font-size="6.4" font-style="italic" fill="#333" text-anchor="middle" textLength="11.5" lengthAdjust="spacingAndGlyphs" stroke="#333" stroke-width="0.22" transform="translate(747.5 494.2) skewX(-6) translate(-747.5 -494.2)">холл,</text>
<text x="747.5" y="501.8" font-size="6.4" font-style="italic" fill="#333" text-anchor="middle" textLength="29.8" lengthAdjust="spacingAndGlyphs" stroke="#333" stroke-width="0.22" transform="translate(747.5 501.8) skewX(-6) translate(-747.5 -501.8)">гардеробная,</text>
<text x="747.5" y="509.4" font-size="6.4" font-style="italic" fill="#333" text-anchor="middle" textLength="18.0" lengthAdjust="spacingAndGlyphs" stroke="#333" stroke-width="0.22" transform="translate(747.5 509.4) skewX(-6) translate(-747.5 -509.4)">коридор</text>
<text x="747.5" y="527.0" font-size="6.4" font-style="italic" fill="#333" text-anchor="middle" textLength="10.2" lengthAdjust="spacingAndGlyphs" stroke="#333" stroke-width="0.22" transform="translate(747.5 527.0) skewX(-6) translate(-747.5 -527.0)">1,2,3</text>
<line x1="767.4" y1="464.8" x2="807.0" y2="453.3" stroke="#2a2a2a" stroke-width="0.9" />
<text x="787.2" y="449.9" font-size="6.0" font-style="italic" fill="#333" text-anchor="middle" textLength="9.1" lengthAdjust="spacingAndGlyphs" stroke="#333" stroke-width="0.22" transform="translate(787.2 449.9) skewX(-6) translate(-787.2 -449.9)">Гр.13</text>
<text x="769.4" y="460.3" font-size="7.6" font-style="italic" fill="#333" text-anchor="start" textLength="11.4" lengthAdjust="spacingAndGlyphs" stroke="#333" stroke-width="0.22" transform="translate(769.4 460.3) skewX(-6) translate(-769.4 -460.3)">0,070</text>
<text x="805.0" y="463.8" font-size="7.6" font-style="italic" fill="#333" text-anchor="end" textLength="11.4" lengthAdjust="spacingAndGlyphs" stroke="#333" stroke-width="0.22" transform="translate(805.0 463.8) skewX(-6) translate(-805.0 -463.8)">0,046</text>
<text x="787.2" y="472.5" font-size="7.6" font-style="italic" fill="#333" text-anchor="middle" textLength="11.4" lengthAdjust="spacingAndGlyphs" stroke="#333" stroke-width="0.22" transform="translate(787.2 472.5) skewX(-6) translate(-787.2 -472.5)">0,207</text>
<text x="787.2" y="493.5" font-size="6.4" font-style="italic" fill="#333" text-anchor="middle" textLength="25.6" lengthAdjust="spacingAndGlyphs" stroke="#333" stroke-width="0.22" transform="translate(787.2 493.5) skewX(-6) translate(-787.2 -493.5)">Освещение</text>
<text x="787.2" y="502.5" font-size="6.4" font-style="italic" fill="#333" text-anchor="middle" textLength="35.3" lengthAdjust="spacingAndGlyphs" stroke="#333" stroke-width="0.22" transform="translate(787.2 502.5) skewX(-6) translate(-787.2 -502.5)">гостиная-кухня</text>
<text x="787.2" y="527.0" font-size="6.4" font-style="italic" fill="#333" text-anchor="middle" textLength="2.6" lengthAdjust="spacingAndGlyphs" stroke="#333" stroke-width="0.22" transform="translate(787.2 527.0) skewX(-6) translate(-787.2 -527.0)">4</text>
<line x1="807.0" y1="464.8" x2="846.6" y2="453.3" stroke="#2a2a2a" stroke-width="0.9" />
<text x="826.8" y="449.9" font-size="6.0" font-style="italic" fill="#333" text-anchor="middle" textLength="9.1" lengthAdjust="spacingAndGlyphs" stroke="#333" stroke-width="0.22" transform="translate(826.8 449.9) skewX(-6) translate(-826.8 -449.9)">Гр.14</text>
<text x="809.0" y="460.3" font-size="7.6" font-style="italic" fill="#333" text-anchor="start" textLength="11.4" lengthAdjust="spacingAndGlyphs" stroke="#333" stroke-width="0.22" transform="translate(809.0 460.3) skewX(-6) translate(-809.0 -460.3)">0,060</text>
<text x="844.6" y="463.8" font-size="7.6" font-style="italic" fill="#333" text-anchor="end" textLength="11.4" lengthAdjust="spacingAndGlyphs" stroke="#333" stroke-width="0.22" transform="translate(844.6 463.8) skewX(-6) translate(-844.6 -463.8)">0,039</text>
<text x="826.8" y="472.5" font-size="7.6" font-style="italic" fill="#333" text-anchor="middle" textLength="11.4" lengthAdjust="spacingAndGlyphs" stroke="#333" stroke-width="0.22" transform="translate(826.8 472.5) skewX(-6) translate(-826.8 -472.5)">0,177</text>
<text x="826.8" y="490.0" font-size="6.4" font-style="italic" fill="#333" text-anchor="middle" textLength="25.6" lengthAdjust="spacingAndGlyphs" stroke="#333" stroke-width="0.22" transform="translate(826.8 490.0) skewX(-6) translate(-826.8 -490.0)">Освещение</text>
<text x="826.8" y="498.0" font-size="6.4" font-style="italic" fill="#333" text-anchor="middle" textLength="21.4" lengthAdjust="spacingAndGlyphs" stroke="#333" stroke-width="0.22" transform="translate(826.8 498.0) skewX(-6) translate(-826.8 -498.0)">гостевая</text>
<text x="826.8" y="506.0" font-size="6.4" font-style="italic" fill="#333" text-anchor="middle" textLength="17.9" lengthAdjust="spacingAndGlyphs" stroke="#333" stroke-width="0.22" transform="translate(826.8 506.0) skewX(-6) translate(-826.8 -506.0)">спальня</text>
<text x="826.8" y="527.0" font-size="6.4" font-style="italic" fill="#333" text-anchor="middle" textLength="2.6" lengthAdjust="spacingAndGlyphs" stroke="#333" stroke-width="0.22" transform="translate(826.8 527.0) skewX(-6) translate(-826.8 -527.0)">5</text>
<line x1="846.6" y1="464.8" x2="886.3" y2="453.3" stroke="#2a2a2a" stroke-width="0.9" />
<text x="866.5" y="449.9" font-size="6.0" font-style="italic" fill="#333" text-anchor="middle" textLength="9.1" lengthAdjust="spacingAndGlyphs" stroke="#333" stroke-width="0.22" transform="translate(866.5 449.9) skewX(-6) translate(-866.5 -449.9)">Гр.15</text>
<text x="848.6" y="460.3" font-size="7.6" font-style="italic" fill="#333" text-anchor="start" textLength="11.4" lengthAdjust="spacingAndGlyphs" stroke="#333" stroke-width="0.22" transform="translate(848.6 460.3) skewX(-6) translate(-848.6 -460.3)">0,140</text>
<text x="884.3" y="463.8" font-size="7.6" font-style="italic" fill="#333" text-anchor="end" textLength="11.4" lengthAdjust="spacingAndGlyphs" stroke="#333" stroke-width="0.22" transform="translate(884.3 463.8) skewX(-6) translate(-884.3 -463.8)">0,140</text>
<text x="866.5" y="472.5" font-size="7.6" font-style="italic" fill="#333" text-anchor="middle" textLength="11.4" lengthAdjust="spacingAndGlyphs" stroke="#333" stroke-width="0.22" transform="translate(866.5 472.5) skewX(-6) translate(-866.5 -472.5)">0,636</text>
<text x="866.5" y="486.6" font-size="6.4" font-style="italic" fill="#333" text-anchor="middle" textLength="25.6" lengthAdjust="spacingAndGlyphs" stroke="#333" stroke-width="0.22" transform="translate(866.5 486.6) skewX(-6) translate(-866.5 -486.6)">Освещение</text>
<text x="866.5" y="494.2" font-size="6.4" font-style="italic" fill="#333" text-anchor="middle" textLength="17.9" lengthAdjust="spacingAndGlyphs" stroke="#333" stroke-width="0.22" transform="translate(866.5 494.2) skewX(-6) translate(-866.5 -494.2)">спальня</text>
<text x="866.5" y="501.8" font-size="6.4" font-style="italic" fill="#333" text-anchor="middle" textLength="26.2" lengthAdjust="spacingAndGlyphs" stroke="#333" stroke-width="0.22" transform="translate(866.5 501.8) skewX(-6) translate(-866.5 -501.8)">родителей,</text>
<text x="866.5" y="509.4" font-size="6.4" font-style="italic" fill="#333" text-anchor="middle" textLength="15.4" lengthAdjust="spacingAndGlyphs" stroke="#333" stroke-width="0.22" transform="translate(866.5 509.4) skewX(-6) translate(-866.5 -509.4)">балкон</text>
<text x="866.5" y="527.0" font-size="6.4" font-style="italic" fill="#333" text-anchor="middle" textLength="9.0" lengthAdjust="spacingAndGlyphs" stroke="#333" stroke-width="0.22" transform="translate(866.5 527.0) skewX(-6) translate(-866.5 -527.0)">8,10</text>
<line x1="886.3" y1="464.8" x2="925.9" y2="453.3" stroke="#2a2a2a" stroke-width="0.9" />
<text x="906.1" y="449.9" font-size="6.0" font-style="italic" fill="#333" text-anchor="middle" textLength="9.1" lengthAdjust="spacingAndGlyphs" stroke="#333" stroke-width="0.22" transform="translate(906.1 449.9) skewX(-6) translate(-906.1 -449.9)">Гр.16</text>
<text x="888.3" y="460.3" font-size="7.6" font-style="italic" fill="#333" text-anchor="start" textLength="11.4" lengthAdjust="spacingAndGlyphs" stroke="#333" stroke-width="0.22" transform="translate(888.3 460.3) skewX(-6) translate(-888.3 -460.3)">0,090</text>
<text x="923.9" y="463.8" font-size="7.6" font-style="italic" fill="#333" text-anchor="end" textLength="11.4" lengthAdjust="spacingAndGlyphs" stroke="#333" stroke-width="0.22" transform="translate(923.9 463.8) skewX(-6) translate(-923.9 -463.8)">0,090</text>
<text x="906.1" y="472.5" font-size="7.6" font-style="italic" fill="#333" text-anchor="middle" textLength="11.4" lengthAdjust="spacingAndGlyphs" stroke="#333" stroke-width="0.22" transform="translate(906.1 472.5) skewX(-6) translate(-906.1 -472.5)">0,409</text>
<text x="906.1" y="490.0" font-size="6.4" font-style="italic" fill="#333" text-anchor="middle" textLength="25.6" lengthAdjust="spacingAndGlyphs" stroke="#333" stroke-width="0.22" transform="translate(906.1 490.0) skewX(-6) translate(-906.1 -490.0)">Освещение</text>
<text x="906.1" y="498.0" font-size="6.4" font-style="italic" fill="#333" text-anchor="middle" textLength="17.9" lengthAdjust="spacingAndGlyphs" stroke="#333" stroke-width="0.22" transform="translate(906.1 498.0) skewX(-6) translate(-906.1 -498.0)">спальня</text>
<text x="906.1" y="506.0" font-size="6.4" font-style="italic" fill="#333" text-anchor="middle" textLength="18.9" lengthAdjust="spacingAndGlyphs" stroke="#333" stroke-width="0.22" transform="translate(906.1 506.0) skewX(-6) translate(-906.1 -506.0)">детская</text>
<text x="906.1" y="527.0" font-size="6.4" font-style="italic" fill="#333" text-anchor="middle" textLength="2.6" lengthAdjust="spacingAndGlyphs" stroke="#333" stroke-width="0.22" transform="translate(906.1 527.0) skewX(-6) translate(-906.1 -527.0)">9</text>
<g opacity="0.95">
<circle cx="950.3" cy="661.6" r="36.3" fill="none" stroke="#7a7a7a" stroke-width="1.4"/>
<circle cx="950.3" cy="661.6" r="21.6" fill="none" stroke="#7a7a7a" stroke-width="1.3"/>
<circle cx="953.5" cy="656.5" r="5.4" fill="#7a7a7a"/>
<rect x="935.9" y="662.5" width="23" height="7" fill="#7a7a7a" transform="rotate(27 947.4 666)"/>
<path id="arcT" d="M 924.0,661.6 A 26.3,26.3 0 1 1 976.5999999999999,661.6 A 26.3,26.3 0 1 1 924.0,661.6" fill="none"/>
<text font-size="10.5" fill="#7a7a7a" font-family="Liberation Sans, sans-serif"><textPath href="#arcT" startOffset="15" textLength="80" lengthAdjust="spacing">ФОТО ПРОВЕРЕНО</textPath></text>
<path id="arcB" d="M 916.6999999999999,661.6 A 33.6,33.6 0 0 0 983.9,661.6" fill="none"/>
<text font-size="10.5" fill="#7a7a7a" font-family="Liberation Sans, sans-serif"><textPath href="#arcB" startOffset="0" textLength="72" lengthAdjust="spacing">И ОДОБРЕНО</textPath></text>
<circle cx="921.7" cy="650.8" r="1.3" fill="#7a7a7a" stroke="none" stroke-width="0"/>
<circle cx="973.2" cy="680.7" r="1.3" fill="#7a7a7a" stroke="none" stroke-width="0"/>
</g>
</svg>
</body></html>
